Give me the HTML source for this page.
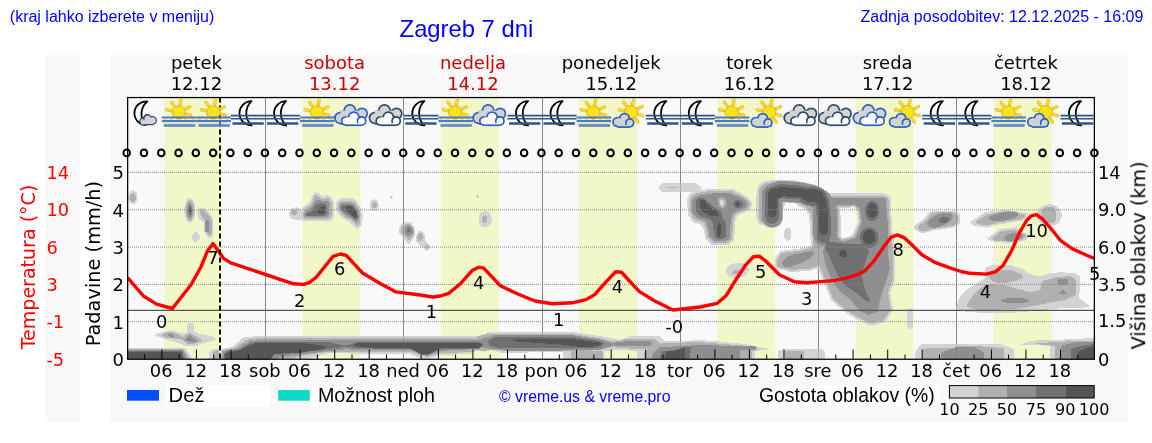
<!DOCTYPE html><html><head><meta charset="utf-8"><style>
html,body{margin:0;padding:0;background:#fff;}
body{width:1152px;height:443px;overflow:hidden;position:relative;}
svg{position:absolute;left:0;top:0;will-change:transform;}
.ds{font-family:"DejaVu Sans",sans-serif;}
.ls{font-family:"Liberation Sans",Arial,sans-serif;}
</style></head><body>
<svg width="1152" height="443" viewBox="0 0 1152 443">
<defs>
<clipPath id="pc"><rect x="128" y="98" width="966" height="261"/></clipPath><clipPath id="ic"><rect x="128.2" y="98.2" width="965.6" height="60"/></clipPath>
</defs>
<rect x="45" y="55" width="35" height="367" fill="#f8f8f8"/>
<rect x="110" y="55" width="1018" height="367" fill="#f8f8f8"/>
<rect x="127.5" y="97.5" width="967" height="261.5" fill="#f9f9f9"/>
<rect x="164.3" y="97.5" width="58.0" height="261.5" fill="#f1f7c9"/>
<rect x="302.6" y="97.5" width="58.0" height="261.5" fill="#f1f7c9"/>
<rect x="440.8" y="97.5" width="58.0" height="261.5" fill="#f1f7c9"/>
<rect x="579.0" y="97.5" width="58.0" height="261.5" fill="#f1f7c9"/>
<rect x="717.3" y="97.5" width="58.0" height="261.5" fill="#f1f7c9"/>
<rect x="855.5" y="97.5" width="58.0" height="261.5" fill="#f1f7c9"/>
<rect x="993.8" y="97.5" width="58.0" height="261.5" fill="#f1f7c9"/>
<line x1="265.5" y1="97.5" x2="265.5" y2="359" stroke="#999" stroke-width="1"/>
<line x1="403.5" y1="97.5" x2="403.5" y2="359" stroke="#999" stroke-width="1"/>
<line x1="542.5" y1="97.5" x2="542.5" y2="359" stroke="#999" stroke-width="1"/>
<line x1="680.5" y1="97.5" x2="680.5" y2="359" stroke="#999" stroke-width="1"/>
<line x1="818.5" y1="97.5" x2="818.5" y2="359" stroke="#999" stroke-width="1"/>
<line x1="956.5" y1="97.5" x2="956.5" y2="359" stroke="#999" stroke-width="1"/>
<path fill="#d3d3d3" fill-rule="evenodd" stroke="#d3d3d3" stroke-width="1" stroke-linejoin="round" d="M782.5 349.5 781.5 350.5 779.5 350.5 778.5 351.5 778.5 358.5 824.5 358.5 824.5 352.5 823.5 351.5 823.5 350.5 822.5 349.5zM212.5 349.5 209.5 352.5 209.5 358.5 218.5 358.5 218.5 349.5zM128.5 348.5 128.5 358.5 192.5 358.5 190.5 356.5 190.5 355.5 188.5 353.5 188.5 352.5 186.5 350.5 186.5 349.5 185.5 348.5zM921.5 344.5 918.5 347.5 918.5 348.5 915.5 351.5 915.5 358.5 1013.5 358.5 1013.5 349.5 1012.5 348.5 1010.5 348.5 1009.5 347.5 1007.5 347.5 1006.5 346.5 1004.5 346.5 1003.5 345.5 1002.5 345.5 1001.5 344.5zM1084.5 338.5 1083.5 339.5 1064.5 339.5 1063.5 340.5 1035.5 340.5 1034.5 341.5 1030.5 341.5 1029.5 342.5 1026.5 342.5 1025.5 343.5 1023.5 343.5 1022.5 344.5 1021.5 344.5 1043.5 344.5 1044.5 345.5 1049.5 345.5 1050.5 346.5 1050.5 358.5 1093.5 358.5 1093.5 338.5zM487.5 332.5 485.5 334.5 483.5 334.5 482.5 335.5 480.5 335.5 479.5 336.5 253.5 336.5 252.5 337.5 244.5 337.5 243.5 338.5 242.5 338.5 238.5 342.5 237.5 342.5 232.5 347.5 229.5 347.5 228.5 348.5 224.5 348.5 223.5 349.5 221.5 349.5 221.5 351.5 220.5 352.5 220.5 358.5 307.5 358.5 308.5 357.5 311.5 357.5 312.5 356.5 316.5 356.5 317.5 355.5 320.5 355.5 321.5 354.5 324.5 354.5 325.5 353.5 328.5 353.5 329.5 352.5 349.5 352.5 350.5 353.5 410.5 353.5 411.5 354.5 412.5 354.5 413.5 355.5 415.5 355.5 416.5 356.5 417.5 356.5 418.5 357.5 421.5 357.5 422.5 358.5 429.5 358.5 430.5 357.5 432.5 357.5 433.5 356.5 435.5 356.5 436.5 355.5 438.5 355.5 439.5 354.5 454.5 354.5 455.5 353.5 470.5 353.5 471.5 352.5 472.5 352.5 473.5 351.5 474.5 351.5 475.5 350.5 482.5 350.5 483.5 351.5 484.5 351.5 485.5 350.5 489.5 350.5 490.5 349.5 491.5 349.5 492.5 350.5 495.5 350.5 496.5 351.5 498.5 351.5 499.5 352.5 527.5 352.5 528.5 351.5 562.5 351.5 563.5 352.5 563.5 358.5 603.5 358.5 603.5 351.5 604.5 350.5 611.5 350.5 612.5 349.5 627.5 349.5 628.5 350.5 636.5 350.5 637.5 351.5 637.5 358.5 754.5 358.5 754.5 352.5 756.5 350.5 759.5 350.5 760.5 349.5 765.5 349.5 766.5 348.5 768.5 348.5 762.5 348.5 761.5 347.5 757.5 347.5 756.5 346.5 752.5 346.5 751.5 345.5 747.5 345.5 746.5 344.5 740.5 344.5 739.5 343.5 730.5 343.5 729.5 342.5 720.5 342.5 719.5 341.5 705.5 341.5 704.5 340.5 691.5 340.5 690.5 341.5 664.5 341.5 660.5 337.5 660.5 336.5 629.5 336.5 628.5 337.5 626.5 337.5 625.5 338.5 624.5 338.5 623.5 339.5 621.5 339.5 620.5 340.5 619.5 340.5 618.5 339.5 613.5 339.5 612.5 338.5 608.5 338.5 607.5 337.5 603.5 337.5 602.5 336.5 597.5 336.5 596.5 335.5 590.5 335.5 589.5 334.5 583.5 334.5 582.5 333.5 577.5 333.5 576.5 332.5zM188.5 323.5 188.5 324.5 187.5 325.5 187.5 332.5 186.5 333.5 179.5 333.5 178.5 332.5 176.5 332.5 175.5 331.5 174.5 331.5 173.5 330.5 172.5 330.5 171.5 331.5 166.5 331.5 165.5 332.5 161.5 332.5 160.5 333.5 157.5 333.5 155.5 335.5 156.5 335.5 157.5 336.5 159.5 336.5 160.5 337.5 162.5 337.5 163.5 338.5 165.5 338.5 166.5 339.5 168.5 339.5 169.5 340.5 172.5 340.5 173.5 341.5 175.5 341.5 176.5 342.5 178.5 342.5 179.5 343.5 181.5 343.5 182.5 344.5 183.5 344.5 184.5 345.5 197.5 345.5 198.5 344.5 200.5 344.5 201.5 343.5 202.5 343.5 203.5 342.5 205.5 342.5 206.5 341.5 209.5 341.5 210.5 340.5 213.5 340.5 214.5 339.5 215.5 339.5 215.5 338.5 214.5 337.5 213.5 337.5 212.5 336.5 208.5 336.5 207.5 335.5 203.5 335.5 202.5 334.5 199.5 334.5 198.5 333.5 197.5 333.5 196.5 332.5 195.5 332.5 193.5 330.5 193.5 324.5 192.5 323.5zM909.5 308.5 907.5 310.5 907.5 326.5 909.5 328.5 911.5 328.5 912.5 327.5 912.5 309.5 911.5 309.5 910.5 308.5zM991.5 265.5 990.5 266.5 989.5 266.5 988.5 267.5 986.5 267.5 985.5 268.5 985.5 277.5 982.5 280.5 981.5 280.5 980.5 281.5 979.5 281.5 977.5 283.5 976.5 283.5 975.5 284.5 974.5 284.5 972.5 286.5 971.5 286.5 969.5 288.5 968.5 288.5 960.5 296.5 960.5 297.5 959.5 298.5 959.5 299.5 958.5 300.5 958.5 302.5 957.5 303.5 957.5 305.5 956.5 306.5 956.5 309.5 957.5 309.5 958.5 310.5 964.5 310.5 965.5 311.5 976.5 311.5 977.5 312.5 1015.5 312.5 1016.5 311.5 1027.5 311.5 1028.5 310.5 1037.5 310.5 1038.5 309.5 1047.5 309.5 1048.5 308.5 1057.5 308.5 1058.5 307.5 1083.5 307.5 1084.5 306.5 1089.5 306.5 1087.5 304.5 1086.5 304.5 1082.5 300.5 1081.5 300.5 1078.5 297.5 1078.5 293.5 1079.5 292.5 1079.5 276.5 1078.5 275.5 1077.5 275.5 1075.5 273.5 1065.5 273.5 1064.5 272.5 1057.5 272.5 1056.5 273.5 1049.5 273.5 1048.5 274.5 1046.5 274.5 1045.5 275.5 1043.5 275.5 1042.5 276.5 1036.5 276.5 1035.5 275.5 1032.5 275.5 1031.5 274.5 1029.5 274.5 1027.5 272.5 1026.5 272.5 1024.5 270.5 1023.5 270.5 1022.5 269.5 1021.5 269.5 1020.5 268.5 1018.5 268.5 1017.5 267.5 1015.5 267.5 1014.5 266.5 1012.5 266.5 1011.5 265.5zM734.5 263.5 733.5 264.5 730.5 264.5 727.5 267.5 727.5 268.5 726.5 269.5 726.5 272.5 727.5 273.5 727.5 274.5 729.5 276.5 731.5 276.5 732.5 277.5 733.5 277.5 734.5 278.5 735.5 278.5 736.5 277.5 739.5 277.5 740.5 276.5 743.5 276.5 744.5 275.5 745.5 275.5 745.5 274.5 747.5 272.5 747.5 271.5 748.5 270.5 748.5 268.5 747.5 267.5 747.5 266.5 745.5 264.5 743.5 264.5 742.5 263.5zM418.5 231.5 418.5 232.5 417.5 233.5 417.5 234.5 416.5 235.5 416.5 241.5 422.5 247.5 423.5 247.5 426.5 250.5 427.5 250.5 429.5 248.5 429.5 245.5 424.5 240.5 424.5 234.5 421.5 231.5zM195.5 231.5 194.5 232.5 194.5 233.5 192.5 235.5 192.5 239.5 194.5 241.5 196.5 241.5 199.5 238.5 199.5 236.5 198.5 235.5 198.5 234.5zM786.5 228.5 784.5 230.5 784.5 231.5 783.5 232.5 784.5 233.5 784.5 237.5 787.5 240.5 788.5 240.5 790.5 238.5 790.5 229.5 789.5 228.5zM1012.5 227.5 1011.5 228.5 1004.5 228.5 1003.5 229.5 999.5 229.5 996.5 232.5 995.5 232.5 993.5 234.5 992.5 234.5 989.5 237.5 988.5 237.5 987.5 238.5 988.5 239.5 989.5 239.5 990.5 240.5 992.5 240.5 993.5 241.5 1002.5 241.5 1003.5 242.5 1015.5 242.5 1016.5 241.5 1020.5 241.5 1021.5 240.5 1024.5 240.5 1025.5 239.5 1026.5 239.5 1026.5 238.5 1027.5 237.5 1027.5 236.5 1028.5 235.5 1027.5 234.5 1026.5 234.5 1024.5 232.5 1023.5 232.5 1021.5 230.5 1020.5 230.5 1019.5 229.5 1018.5 229.5 1016.5 227.5zM404.5 222.5 403.5 223.5 402.5 223.5 400.5 225.5 400.5 226.5 399.5 227.5 399.5 233.5 403.5 237.5 403.5 238.5 408.5 243.5 409.5 243.5 409.5 242.5 412.5 239.5 412.5 238.5 414.5 236.5 414.5 227.5 411.5 224.5 411.5 223.5 410.5 222.5zM930.5 211.5 927.5 214.5 927.5 215.5 921.5 221.5 920.5 221.5 918.5 223.5 917.5 223.5 915.5 225.5 914.5 225.5 914.5 228.5 916.5 230.5 917.5 230.5 918.5 231.5 919.5 231.5 920.5 232.5 925.5 232.5 926.5 231.5 929.5 231.5 930.5 230.5 933.5 230.5 934.5 229.5 939.5 229.5 940.5 228.5 946.5 228.5 947.5 227.5 952.5 227.5 953.5 226.5 955.5 226.5 956.5 225.5 957.5 225.5 959.5 223.5 959.5 214.5 956.5 211.5zM483.5 211.5 482.5 212.5 481.5 212.5 480.5 213.5 480.5 214.5 479.5 215.5 479.5 222.5 480.5 223.5 480.5 224.5 482.5 226.5 487.5 226.5 490.5 223.5 490.5 221.5 491.5 220.5 491.5 217.5 490.5 216.5 490.5 214.5 488.5 212.5 487.5 212.5 486.5 211.5zM1000.5 210.5 999.5 211.5 990.5 211.5 989.5 212.5 984.5 212.5 982.5 214.5 981.5 214.5 979.5 216.5 978.5 216.5 976.5 218.5 975.5 218.5 973.5 220.5 972.5 220.5 970.5 222.5 972.5 224.5 973.5 224.5 974.5 225.5 978.5 225.5 979.5 226.5 984.5 226.5 985.5 227.5 986.5 227.5 987.5 226.5 990.5 226.5 991.5 225.5 994.5 225.5 995.5 224.5 998.5 224.5 999.5 223.5 1004.5 223.5 1005.5 222.5 1010.5 222.5 1011.5 221.5 1016.5 221.5 1017.5 220.5 1022.5 220.5 1023.5 219.5 1024.5 219.5 1025.5 218.5 1025.5 217.5 1026.5 216.5 1026.5 215.5 1027.5 214.5 1026.5 213.5 1022.5 213.5 1021.5 212.5 1017.5 212.5 1016.5 211.5 1011.5 211.5 1010.5 210.5zM849.5 207.5 850.5 206.5 853.5 206.5 857.5 210.5 857.5 214.5 858.5 215.5 858.5 223.5 857.5 224.5 857.5 225.5 856.5 226.5 856.5 227.5 855.5 228.5 855.5 229.5 854.5 230.5 854.5 231.5 853.5 232.5 853.5 233.5 850.5 236.5 849.5 236.5 848.5 237.5 845.5 237.5 844.5 238.5 842.5 238.5 840.5 236.5 840.5 215.5 839.5 214.5 839.5 208.5 840.5 207.5zM200.5 207.5 198.5 209.5 198.5 210.5 197.5 211.5 197.5 212.5 198.5 213.5 198.5 217.5 204.5 223.5 204.5 231.5 205.5 232.5 205.5 233.5 206.5 234.5 206.5 235.5 208.5 237.5 211.5 237.5 212.5 236.5 212.5 217.5 210.5 215.5 210.5 214.5 204.5 208.5 201.5 208.5zM1047.5 204.5 1046.5 205.5 1043.5 205.5 1041.5 207.5 1040.5 207.5 1038.5 209.5 1038.5 210.5 1037.5 211.5 1037.5 219.5 1042.5 224.5 1043.5 224.5 1044.5 225.5 1053.5 225.5 1054.5 224.5 1055.5 224.5 1056.5 223.5 1057.5 223.5 1059.5 221.5 1059.5 220.5 1060.5 219.5 1060.5 217.5 1061.5 216.5 1061.5 213.5 1060.5 212.5 1060.5 211.5 1059.5 210.5 1059.5 209.5 1056.5 206.5 1055.5 206.5 1054.5 205.5 1052.5 205.5 1051.5 204.5zM720.5 202.5 721.5 201.5 722.5 202.5 722.5 203.5 721.5 204.5 720.5 203.5zM373.5 199.5 372.5 200.5 371.5 200.5 371.5 201.5 370.5 202.5 370.5 208.5 372.5 210.5 376.5 210.5 376.5 209.5 377.5 208.5 377.5 207.5 378.5 206.5 378.5 204.5 377.5 203.5 377.5 201.5 376.5 200.5 375.5 200.5 374.5 199.5zM340.5 198.5 339.5 199.5 338.5 199.5 337.5 200.5 337.5 201.5 336.5 202.5 336.5 204.5 335.5 205.5 336.5 206.5 336.5 209.5 337.5 210.5 337.5 212.5 343.5 218.5 344.5 218.5 345.5 219.5 346.5 219.5 347.5 220.5 348.5 220.5 354.5 226.5 354.5 227.5 356.5 227.5 357.5 228.5 361.5 224.5 361.5 219.5 362.5 218.5 362.5 213.5 361.5 212.5 361.5 210.5 360.5 209.5 360.5 207.5 359.5 206.5 359.5 205.5 357.5 203.5 357.5 202.5 354.5 199.5 353.5 199.5 352.5 198.5zM188.5 198.5 187.5 199.5 187.5 200.5 186.5 201.5 186.5 202.5 185.5 203.5 185.5 206.5 184.5 207.5 184.5 213.5 185.5 214.5 185.5 217.5 186.5 218.5 186.5 219.5 189.5 222.5 190.5 222.5 193.5 219.5 193.5 217.5 194.5 216.5 194.5 203.5 193.5 202.5 193.5 201.5 190.5 198.5zM477.5 196.5 477.5 197.5 478.5 196.5zM391.5 196.5 391.5 197.5 392.5 197.5zM315.5 192.5 312.5 195.5 312.5 197.5 311.5 198.5 311.5 200.5 306.5 205.5 305.5 205.5 302.5 208.5 302.5 210.5 301.5 211.5 300.5 210.5 300.5 209.5 299.5 208.5 298.5 208.5 297.5 207.5 295.5 207.5 294.5 208.5 291.5 208.5 290.5 209.5 290.5 211.5 289.5 212.5 289.5 215.5 290.5 216.5 290.5 217.5 291.5 218.5 293.5 218.5 294.5 219.5 299.5 219.5 300.5 218.5 302.5 220.5 330.5 220.5 333.5 217.5 333.5 201.5 332.5 200.5 332.5 199.5 330.5 197.5 330.5 196.5 329.5 196.5 328.5 195.5 326.5 195.5 325.5 196.5 324.5 196.5 323.5 197.5 322.5 196.5 321.5 196.5 318.5 193.5 317.5 193.5 316.5 192.5zM132.5 190.5 131.5 191.5 130.5 191.5 130.5 192.5 129.5 193.5 129.5 194.5 128.5 195.5 128.5 199.5 129.5 200.5 129.5 201.5 131.5 203.5 134.5 203.5 136.5 201.5 136.5 193.5 133.5 190.5zM662.5 183.5 658.5 187.5 662.5 191.5 691.5 191.5 692.5 192.5 691.5 193.5 690.5 193.5 689.5 194.5 689.5 195.5 688.5 196.5 688.5 197.5 687.5 198.5 687.5 206.5 688.5 207.5 688.5 215.5 690.5 217.5 690.5 218.5 694.5 222.5 696.5 222.5 697.5 223.5 699.5 223.5 703.5 227.5 703.5 228.5 704.5 229.5 704.5 233.5 705.5 234.5 705.5 238.5 711.5 244.5 728.5 244.5 731.5 241.5 732.5 241.5 733.5 240.5 733.5 235.5 734.5 234.5 734.5 221.5 735.5 220.5 735.5 218.5 736.5 217.5 736.5 216.5 738.5 214.5 739.5 214.5 740.5 213.5 741.5 213.5 742.5 212.5 744.5 212.5 745.5 211.5 746.5 211.5 747.5 210.5 748.5 210.5 750.5 208.5 750.5 207.5 751.5 206.5 751.5 204.5 752.5 203.5 750.5 201.5 750.5 200.5 746.5 196.5 745.5 196.5 744.5 195.5 743.5 195.5 741.5 193.5 740.5 193.5 739.5 192.5 738.5 192.5 737.5 191.5 736.5 191.5 734.5 189.5 705.5 189.5 704.5 190.5 700.5 190.5 699.5 189.5 700.5 188.5 701.5 188.5 701.5 187.5 700.5 186.5 699.5 186.5 697.5 184.5 696.5 184.5 695.5 183.5zM769.5 180.5 768.5 181.5 764.5 181.5 763.5 182.5 762.5 182.5 758.5 186.5 758.5 187.5 757.5 188.5 757.5 193.5 756.5 194.5 756.5 217.5 757.5 218.5 757.5 220.5 758.5 221.5 758.5 222.5 760.5 224.5 764.5 224.5 766.5 226.5 768.5 226.5 769.5 227.5 775.5 227.5 776.5 226.5 777.5 226.5 781.5 222.5 781.5 221.5 782.5 220.5 782.5 209.5 783.5 208.5 783.5 206.5 784.5 205.5 784.5 203.5 785.5 202.5 795.5 202.5 799.5 206.5 800.5 206.5 801.5 207.5 802.5 207.5 803.5 208.5 804.5 208.5 807.5 211.5 807.5 212.5 809.5 214.5 809.5 222.5 810.5 223.5 810.5 237.5 811.5 238.5 811.5 245.5 810.5 246.5 809.5 246.5 808.5 247.5 805.5 247.5 804.5 248.5 800.5 248.5 799.5 249.5 792.5 249.5 791.5 250.5 784.5 250.5 783.5 251.5 780.5 251.5 779.5 252.5 779.5 253.5 777.5 255.5 777.5 256.5 775.5 258.5 775.5 267.5 776.5 268.5 779.5 268.5 780.5 269.5 783.5 269.5 784.5 270.5 786.5 270.5 787.5 271.5 799.5 271.5 800.5 270.5 810.5 270.5 811.5 269.5 813.5 269.5 814.5 268.5 818.5 268.5 819.5 269.5 819.5 271.5 820.5 272.5 820.5 273.5 821.5 274.5 821.5 276.5 822.5 277.5 822.5 278.5 823.5 279.5 823.5 280.5 824.5 281.5 824.5 283.5 825.5 284.5 825.5 285.5 826.5 286.5 826.5 288.5 827.5 289.5 827.5 290.5 828.5 291.5 828.5 293.5 829.5 294.5 829.5 295.5 830.5 296.5 830.5 298.5 831.5 299.5 831.5 300.5 832.5 300.5 838.5 306.5 839.5 306.5 844.5 311.5 845.5 311.5 847.5 313.5 848.5 313.5 850.5 315.5 851.5 315.5 852.5 316.5 853.5 316.5 855.5 318.5 856.5 318.5 857.5 319.5 858.5 319.5 859.5 320.5 860.5 320.5 861.5 321.5 862.5 321.5 863.5 322.5 864.5 322.5 865.5 323.5 866.5 323.5 867.5 324.5 869.5 324.5 870.5 325.5 871.5 324.5 875.5 324.5 876.5 323.5 879.5 323.5 880.5 322.5 883.5 322.5 884.5 321.5 885.5 321.5 885.5 320.5 887.5 318.5 887.5 317.5 889.5 315.5 889.5 314.5 891.5 312.5 891.5 311.5 892.5 310.5 892.5 306.5 891.5 305.5 891.5 300.5 890.5 299.5 890.5 294.5 889.5 293.5 889.5 292.5 890.5 291.5 890.5 289.5 891.5 288.5 891.5 287.5 892.5 286.5 892.5 284.5 893.5 283.5 893.5 282.5 894.5 281.5 894.5 245.5 893.5 244.5 893.5 238.5 892.5 237.5 892.5 232.5 891.5 231.5 891.5 216.5 890.5 215.5 890.5 198.5 889.5 197.5 889.5 196.5 888.5 195.5 887.5 195.5 886.5 194.5 884.5 194.5 883.5 193.5 829.5 193.5 827.5 191.5 826.5 191.5 825.5 190.5 824.5 190.5 822.5 188.5 821.5 188.5 819.5 186.5 817.5 186.5 816.5 185.5 814.5 185.5 813.5 184.5 810.5 184.5 809.5 183.5 805.5 183.5 804.5 182.5 800.5 182.5 799.5 181.5 796.5 181.5 795.5 180.5z"/>
<path fill="#b0b0b0" fill-rule="evenodd" stroke="#b0b0b0" stroke-width="1" stroke-linejoin="round" d="M785.5 351.5 785.5 358.5 803.5 358.5 803.5 352.5 802.5 351.5zM216.5 350.5 215.5 351.5 214.5 351.5 213.5 352.5 213.5 358.5 218.5 358.5 218.5 351.5 217.5 350.5zM128.5 349.5 128.5 358.5 189.5 358.5 187.5 356.5 187.5 355.5 186.5 354.5 186.5 353.5 184.5 351.5 184.5 350.5 183.5 349.5zM957.5 346.5 956.5 347.5 954.5 347.5 953.5 348.5 926.5 348.5 925.5 349.5 923.5 349.5 923.5 358.5 1003.5 358.5 1003.5 348.5 996.5 348.5 995.5 347.5 983.5 347.5 982.5 346.5zM1065.5 341.5 1064.5 342.5 1048.5 342.5 1047.5 343.5 1036.5 343.5 1039.5 343.5 1040.5 344.5 1049.5 344.5 1050.5 345.5 1054.5 345.5 1055.5 346.5 1055.5 358.5 1093.5 358.5 1093.5 341.5zM486.5 334.5 485.5 335.5 481.5 335.5 480.5 336.5 478.5 336.5 477.5 337.5 476.5 337.5 475.5 338.5 256.5 338.5 255.5 339.5 248.5 339.5 247.5 340.5 245.5 340.5 243.5 342.5 242.5 342.5 240.5 344.5 239.5 344.5 236.5 347.5 235.5 347.5 234.5 348.5 232.5 348.5 231.5 349.5 226.5 349.5 225.5 350.5 222.5 350.5 222.5 353.5 221.5 354.5 221.5 358.5 292.5 358.5 293.5 357.5 295.5 357.5 296.5 356.5 298.5 356.5 299.5 355.5 303.5 355.5 304.5 354.5 310.5 354.5 311.5 353.5 316.5 353.5 317.5 352.5 323.5 352.5 324.5 351.5 411.5 351.5 412.5 352.5 414.5 352.5 415.5 353.5 417.5 353.5 418.5 354.5 421.5 354.5 422.5 355.5 424.5 355.5 425.5 356.5 428.5 356.5 429.5 355.5 431.5 355.5 432.5 354.5 435.5 354.5 436.5 353.5 438.5 353.5 439.5 352.5 458.5 352.5 459.5 351.5 471.5 351.5 472.5 350.5 474.5 350.5 475.5 349.5 479.5 349.5 480.5 350.5 486.5 350.5 487.5 349.5 500.5 349.5 501.5 350.5 570.5 350.5 571.5 351.5 571.5 358.5 602.5 358.5 602.5 351.5 593.5 351.5 592.5 350.5 593.5 349.5 602.5 349.5 603.5 348.5 606.5 348.5 607.5 347.5 610.5 347.5 611.5 346.5 616.5 346.5 617.5 347.5 628.5 347.5 629.5 348.5 647.5 348.5 648.5 349.5 647.5 350.5 646.5 350.5 644.5 352.5 644.5 358.5 751.5 358.5 751.5 351.5 752.5 350.5 753.5 350.5 754.5 349.5 757.5 349.5 756.5 348.5 756.5 347.5 755.5 346.5 743.5 346.5 742.5 345.5 730.5 345.5 729.5 344.5 717.5 344.5 716.5 343.5 705.5 343.5 704.5 342.5 686.5 342.5 685.5 343.5 661.5 343.5 660.5 344.5 656.5 340.5 655.5 340.5 654.5 339.5 623.5 339.5 622.5 340.5 619.5 340.5 618.5 341.5 614.5 341.5 613.5 342.5 612.5 341.5 609.5 341.5 608.5 340.5 605.5 340.5 604.5 339.5 601.5 339.5 600.5 338.5 596.5 338.5 595.5 337.5 589.5 337.5 588.5 336.5 582.5 336.5 581.5 335.5 576.5 335.5 575.5 334.5zM167.5 332.5 166.5 333.5 164.5 333.5 163.5 334.5 162.5 334.5 162.5 335.5 163.5 336.5 164.5 336.5 165.5 337.5 173.5 337.5 174.5 338.5 179.5 338.5 180.5 339.5 182.5 339.5 184.5 341.5 185.5 341.5 187.5 343.5 194.5 343.5 195.5 342.5 197.5 342.5 198.5 341.5 200.5 341.5 201.5 340.5 199.5 338.5 198.5 338.5 196.5 336.5 195.5 336.5 194.5 335.5 193.5 335.5 192.5 334.5 191.5 334.5 190.5 333.5 188.5 333.5 186.5 335.5 185.5 335.5 184.5 336.5 183.5 336.5 182.5 337.5 181.5 337.5 178.5 334.5 176.5 334.5 175.5 333.5 173.5 333.5 172.5 332.5zM1065.5 276.5 1064.5 277.5 1054.5 277.5 1053.5 278.5 1051.5 278.5 1050.5 279.5 1048.5 279.5 1047.5 280.5 1044.5 280.5 1043.5 281.5 1042.5 281.5 1042.5 283.5 1041.5 284.5 1041.5 288.5 1039.5 290.5 1038.5 290.5 1037.5 291.5 1033.5 291.5 1032.5 292.5 1028.5 292.5 1027.5 291.5 1024.5 291.5 1023.5 290.5 1020.5 290.5 1019.5 289.5 1016.5 289.5 1015.5 288.5 1013.5 288.5 1012.5 287.5 1010.5 287.5 1009.5 286.5 1006.5 286.5 1005.5 285.5 996.5 285.5 995.5 284.5 989.5 284.5 988.5 285.5 987.5 285.5 986.5 286.5 984.5 286.5 983.5 287.5 982.5 287.5 981.5 288.5 980.5 288.5 972.5 296.5 972.5 297.5 969.5 300.5 969.5 301.5 967.5 303.5 967.5 306.5 969.5 306.5 970.5 307.5 971.5 307.5 972.5 308.5 974.5 308.5 975.5 309.5 1001.5 309.5 1002.5 308.5 1019.5 308.5 1020.5 307.5 1025.5 307.5 1026.5 306.5 1030.5 306.5 1031.5 305.5 1035.5 305.5 1036.5 304.5 1040.5 304.5 1041.5 303.5 1045.5 303.5 1046.5 302.5 1050.5 302.5 1051.5 301.5 1056.5 301.5 1057.5 300.5 1062.5 300.5 1063.5 299.5 1065.5 299.5 1066.5 298.5 1067.5 298.5 1068.5 297.5 1070.5 297.5 1071.5 296.5 1072.5 296.5 1073.5 295.5 1074.5 295.5 1075.5 294.5 1075.5 280.5 1072.5 277.5 1071.5 277.5 1070.5 276.5zM995.5 270.5 993.5 272.5 992.5 272.5 989.5 275.5 988.5 275.5 988.5 276.5 993.5 281.5 995.5 281.5 996.5 282.5 997.5 282.5 998.5 283.5 999.5 283.5 1000.5 282.5 1007.5 282.5 1008.5 281.5 1012.5 281.5 1013.5 280.5 1016.5 280.5 1017.5 279.5 1018.5 279.5 1019.5 278.5 1021.5 278.5 1022.5 277.5 1022.5 276.5 1019.5 273.5 1017.5 273.5 1016.5 272.5 1015.5 272.5 1014.5 271.5 1012.5 271.5 1011.5 270.5zM734.5 270.5 732.5 272.5 732.5 273.5 739.5 273.5 739.5 271.5 738.5 270.5zM426.5 244.5 426.5 248.5 427.5 247.5 427.5 245.5zM419.5 233.5 418.5 234.5 418.5 235.5 417.5 236.5 417.5 237.5 418.5 238.5 418.5 240.5 421.5 240.5 421.5 239.5 422.5 238.5 422.5 235.5 421.5 234.5 421.5 233.5zM1007.5 230.5 1006.5 231.5 1001.5 231.5 1000.5 232.5 999.5 232.5 996.5 235.5 995.5 235.5 992.5 238.5 993.5 239.5 994.5 239.5 995.5 240.5 1007.5 240.5 1008.5 241.5 1012.5 241.5 1013.5 240.5 1017.5 240.5 1018.5 239.5 1021.5 239.5 1022.5 238.5 1023.5 238.5 1025.5 236.5 1025.5 235.5 1024.5 234.5 1023.5 234.5 1022.5 233.5 1021.5 233.5 1020.5 232.5 1019.5 232.5 1018.5 231.5 1017.5 231.5 1016.5 230.5zM405.5 224.5 404.5 225.5 403.5 225.5 402.5 226.5 402.5 227.5 401.5 228.5 401.5 232.5 408.5 239.5 409.5 239.5 411.5 237.5 411.5 236.5 413.5 234.5 413.5 229.5 412.5 228.5 412.5 227.5 409.5 224.5zM484.5 215.5 482.5 217.5 482.5 221.5 483.5 222.5 485.5 222.5 486.5 221.5 486.5 216.5 485.5 215.5zM936.5 212.5 935.5 213.5 932.5 213.5 928.5 217.5 928.5 218.5 926.5 220.5 925.5 220.5 922.5 223.5 921.5 223.5 918.5 226.5 918.5 228.5 920.5 230.5 926.5 230.5 927.5 229.5 930.5 229.5 931.5 228.5 935.5 228.5 936.5 227.5 941.5 227.5 942.5 226.5 947.5 226.5 948.5 225.5 953.5 225.5 954.5 224.5 955.5 224.5 957.5 222.5 957.5 215.5 955.5 213.5 954.5 213.5 953.5 212.5zM1004.5 211.5 1003.5 212.5 998.5 212.5 997.5 213.5 993.5 213.5 992.5 214.5 987.5 214.5 986.5 215.5 985.5 215.5 983.5 217.5 982.5 217.5 980.5 219.5 979.5 219.5 978.5 220.5 977.5 220.5 976.5 221.5 976.5 222.5 977.5 223.5 979.5 223.5 980.5 224.5 990.5 224.5 991.5 223.5 994.5 223.5 995.5 222.5 998.5 222.5 999.5 221.5 1005.5 221.5 1006.5 220.5 1012.5 220.5 1013.5 219.5 1019.5 219.5 1020.5 218.5 1022.5 218.5 1024.5 216.5 1024.5 215.5 1023.5 214.5 1019.5 214.5 1017.5 212.5 1014.5 212.5 1013.5 211.5zM292.5 210.5 291.5 211.5 291.5 213.5 292.5 214.5 293.5 214.5 294.5 215.5 296.5 213.5 296.5 211.5 295.5 210.5zM200.5 210.5 200.5 213.5 201.5 214.5 201.5 215.5 202.5 216.5 202.5 217.5 205.5 220.5 205.5 231.5 209.5 235.5 211.5 233.5 211.5 220.5 210.5 219.5 210.5 218.5 209.5 217.5 209.5 216.5 203.5 210.5zM1045.5 207.5 1044.5 208.5 1043.5 208.5 1042.5 209.5 1042.5 210.5 1041.5 211.5 1041.5 220.5 1043.5 222.5 1053.5 222.5 1055.5 220.5 1055.5 210.5 1054.5 209.5 1054.5 208.5 1053.5 207.5zM850.5 206.5 851.5 205.5 854.5 205.5 859.5 210.5 859.5 218.5 860.5 219.5 860.5 222.5 859.5 223.5 859.5 224.5 858.5 225.5 858.5 227.5 857.5 228.5 857.5 229.5 856.5 230.5 856.5 232.5 855.5 233.5 855.5 234.5 854.5 235.5 854.5 236.5 853.5 237.5 850.5 237.5 849.5 238.5 847.5 238.5 846.5 239.5 843.5 239.5 842.5 240.5 838.5 236.5 838.5 210.5 837.5 209.5 837.5 207.5 838.5 206.5zM373.5 202.5 373.5 203.5 372.5 204.5 372.5 206.5 373.5 207.5 375.5 207.5 376.5 206.5 376.5 203.5 375.5 202.5zM340.5 201.5 339.5 202.5 339.5 203.5 338.5 204.5 338.5 208.5 339.5 209.5 339.5 210.5 341.5 212.5 341.5 213.5 345.5 217.5 346.5 217.5 347.5 218.5 349.5 218.5 350.5 219.5 351.5 219.5 357.5 225.5 359.5 223.5 359.5 216.5 360.5 215.5 360.5 214.5 359.5 213.5 359.5 210.5 358.5 209.5 358.5 207.5 355.5 204.5 355.5 203.5 354.5 202.5 353.5 202.5 352.5 201.5zM719.5 200.5 720.5 199.5 722.5 199.5 724.5 201.5 724.5 204.5 722.5 206.5 721.5 206.5 719.5 204.5zM189.5 200.5 187.5 202.5 187.5 203.5 186.5 204.5 186.5 216.5 187.5 217.5 187.5 218.5 189.5 220.5 190.5 220.5 191.5 219.5 191.5 218.5 192.5 217.5 192.5 216.5 193.5 215.5 193.5 205.5 192.5 204.5 192.5 202.5 190.5 200.5zM391 197h1v1h-1zM477 196h1v1h-1zM315.5 195.5 314.5 196.5 314.5 197.5 313.5 198.5 313.5 200.5 312.5 201.5 312.5 202.5 311.5 203.5 311.5 204.5 309.5 206.5 308.5 206.5 304.5 210.5 304.5 211.5 303.5 212.5 303.5 217.5 304.5 218.5 328.5 218.5 331.5 215.5 331.5 202.5 329.5 200.5 329.5 199.5 328.5 198.5 326.5 198.5 325.5 199.5 321.5 199.5 319.5 197.5 318.5 197.5 316.5 195.5zM132.5 193.5 130.5 195.5 130.5 199.5 131.5 200.5 131.5 201.5 133.5 201.5 135.5 199.5 135.5 196.5 134.5 195.5 134.5 194.5 133.5 193.5zM707.5 191.5 706.5 192.5 700.5 192.5 699.5 193.5 696.5 193.5 695.5 194.5 694.5 194.5 693.5 195.5 692.5 195.5 691.5 196.5 691.5 197.5 690.5 198.5 690.5 211.5 691.5 212.5 691.5 214.5 692.5 215.5 692.5 216.5 696.5 220.5 699.5 220.5 700.5 221.5 702.5 221.5 704.5 223.5 704.5 224.5 705.5 225.5 705.5 227.5 706.5 228.5 706.5 231.5 707.5 232.5 707.5 236.5 713.5 242.5 727.5 242.5 730.5 239.5 731.5 239.5 731.5 232.5 732.5 231.5 732.5 220.5 733.5 219.5 733.5 217.5 734.5 216.5 734.5 215.5 737.5 212.5 738.5 212.5 739.5 211.5 741.5 211.5 742.5 210.5 743.5 210.5 744.5 209.5 745.5 209.5 746.5 208.5 747.5 208.5 748.5 207.5 748.5 206.5 749.5 205.5 749.5 202.5 745.5 198.5 744.5 198.5 742.5 196.5 741.5 196.5 740.5 195.5 739.5 195.5 738.5 194.5 737.5 194.5 736.5 193.5 735.5 193.5 734.5 192.5 733.5 192.5 732.5 191.5zM668.5 187.5 676.5 187.5zM781.5 180.5 780.5 181.5 775.5 181.5 774.5 182.5 770.5 182.5 769.5 183.5 765.5 183.5 764.5 184.5 763.5 184.5 760.5 187.5 760.5 188.5 759.5 189.5 759.5 219.5 760.5 220.5 760.5 221.5 761.5 222.5 763.5 222.5 764.5 223.5 764.5 224.5 765.5 224.5 767.5 226.5 769.5 226.5 770.5 227.5 773.5 227.5 774.5 226.5 776.5 226.5 777.5 225.5 778.5 225.5 780.5 223.5 780.5 222.5 781.5 221.5 781.5 219.5 782.5 218.5 782.5 202.5 783.5 201.5 787.5 201.5 788.5 202.5 798.5 202.5 800.5 204.5 801.5 204.5 802.5 205.5 803.5 205.5 804.5 206.5 805.5 206.5 809.5 210.5 809.5 211.5 811.5 213.5 811.5 219.5 812.5 220.5 812.5 235.5 813.5 236.5 813.5 246.5 811.5 248.5 810.5 248.5 809.5 249.5 805.5 249.5 804.5 250.5 801.5 250.5 800.5 251.5 793.5 251.5 792.5 252.5 785.5 252.5 784.5 253.5 781.5 253.5 780.5 254.5 780.5 255.5 779.5 256.5 779.5 257.5 777.5 259.5 777.5 266.5 779.5 266.5 780.5 267.5 783.5 267.5 784.5 268.5 787.5 268.5 788.5 269.5 797.5 269.5 798.5 268.5 809.5 268.5 810.5 267.5 812.5 267.5 813.5 266.5 816.5 266.5 817.5 265.5 818.5 265.5 821.5 268.5 821.5 270.5 822.5 271.5 822.5 272.5 823.5 273.5 823.5 275.5 824.5 276.5 824.5 277.5 825.5 278.5 825.5 280.5 826.5 281.5 826.5 282.5 827.5 283.5 827.5 284.5 828.5 285.5 828.5 287.5 829.5 288.5 829.5 289.5 830.5 290.5 830.5 292.5 831.5 293.5 831.5 294.5 832.5 295.5 832.5 297.5 839.5 304.5 840.5 304.5 846.5 310.5 847.5 310.5 848.5 311.5 849.5 311.5 851.5 313.5 852.5 313.5 853.5 314.5 854.5 314.5 856.5 316.5 857.5 316.5 858.5 317.5 859.5 317.5 860.5 318.5 861.5 318.5 862.5 319.5 863.5 319.5 864.5 320.5 865.5 320.5 866.5 321.5 867.5 321.5 868.5 322.5 874.5 322.5 875.5 321.5 878.5 321.5 879.5 320.5 882.5 320.5 885.5 317.5 885.5 316.5 887.5 314.5 887.5 313.5 889.5 311.5 889.5 310.5 890.5 309.5 890.5 307.5 889.5 306.5 889.5 301.5 888.5 300.5 888.5 295.5 887.5 294.5 887.5 291.5 888.5 290.5 888.5 288.5 889.5 287.5 889.5 286.5 890.5 285.5 890.5 283.5 891.5 282.5 891.5 281.5 892.5 280.5 892.5 247.5 891.5 246.5 891.5 240.5 890.5 239.5 890.5 233.5 889.5 232.5 889.5 219.5 888.5 218.5 888.5 200.5 887.5 199.5 887.5 197.5 886.5 197.5 885.5 196.5 831.5 196.5 829.5 194.5 829.5 193.5 828.5 193.5 826.5 191.5 825.5 191.5 822.5 188.5 821.5 188.5 820.5 187.5 819.5 187.5 818.5 186.5 816.5 186.5 815.5 185.5 813.5 185.5 812.5 184.5 808.5 184.5 807.5 183.5 804.5 183.5 803.5 182.5 795.5 182.5 794.5 181.5 782.5 181.5z"/>
<path fill="#8f8f8f" fill-rule="evenodd" stroke="#8f8f8f" stroke-width="1" stroke-linejoin="round" d="M128.5 350.5 128.5 358.5 186.5 358.5 186.5 357.5 185.5 356.5 185.5 355.5 184.5 354.5 184.5 353.5 183.5 352.5 183.5 351.5 182.5 350.5zM955.5 347.5 954.5 348.5 953.5 348.5 952.5 349.5 950.5 349.5 949.5 350.5 947.5 350.5 946.5 351.5 944.5 351.5 943.5 352.5 942.5 352.5 941.5 353.5 941.5 358.5 983.5 358.5 983.5 352.5 982.5 352.5 980.5 350.5 979.5 350.5 978.5 349.5 977.5 349.5 976.5 348.5 975.5 348.5 974.5 347.5zM690.5 345.5 689.5 346.5 673.5 346.5 672.5 347.5 659.5 347.5 653.5 353.5 653.5 354.5 652.5 355.5 652.5 358.5 739.5 358.5 739.5 350.5 740.5 349.5 754.5 349.5 755.5 348.5 755.5 347.5 754.5 346.5 719.5 346.5 718.5 345.5zM1075.5 342.5 1074.5 343.5 1070.5 343.5 1069.5 344.5 1066.5 344.5 1065.5 345.5 1062.5 345.5 1061.5 346.5 1061.5 358.5 1093.5 358.5 1093.5 342.5zM493.5 335.5 492.5 336.5 491.5 336.5 490.5 337.5 486.5 337.5 485.5 338.5 483.5 338.5 482.5 339.5 481.5 339.5 480.5 340.5 257.5 340.5 256.5 341.5 249.5 341.5 247.5 343.5 246.5 343.5 245.5 344.5 244.5 344.5 243.5 345.5 242.5 345.5 240.5 347.5 239.5 347.5 238.5 348.5 237.5 348.5 236.5 349.5 232.5 349.5 231.5 350.5 226.5 350.5 225.5 351.5 223.5 351.5 223.5 355.5 222.5 356.5 222.5 358.5 277.5 358.5 279.5 356.5 282.5 356.5 283.5 355.5 290.5 355.5 291.5 354.5 298.5 354.5 299.5 353.5 306.5 353.5 307.5 352.5 315.5 352.5 316.5 351.5 323.5 351.5 324.5 350.5 333.5 350.5 334.5 349.5 343.5 349.5 344.5 348.5 348.5 348.5 349.5 349.5 410.5 349.5 411.5 350.5 413.5 350.5 414.5 351.5 415.5 351.5 416.5 352.5 417.5 352.5 418.5 353.5 419.5 353.5 420.5 354.5 425.5 354.5 426.5 355.5 427.5 355.5 428.5 354.5 429.5 354.5 430.5 353.5 432.5 353.5 433.5 352.5 435.5 352.5 436.5 351.5 437.5 351.5 438.5 350.5 446.5 350.5 447.5 349.5 466.5 349.5 467.5 348.5 479.5 348.5 481.5 346.5 482.5 346.5 483.5 347.5 489.5 347.5 490.5 348.5 496.5 348.5 497.5 349.5 506.5 349.5 507.5 350.5 561.5 350.5 562.5 349.5 600.5 349.5 601.5 348.5 602.5 348.5 603.5 347.5 605.5 347.5 606.5 346.5 608.5 346.5 609.5 345.5 611.5 345.5 612.5 344.5 614.5 344.5 615.5 345.5 650.5 345.5 651.5 344.5 651.5 343.5 649.5 341.5 624.5 341.5 623.5 342.5 616.5 342.5 615.5 343.5 610.5 343.5 609.5 342.5 607.5 342.5 606.5 341.5 604.5 341.5 603.5 340.5 600.5 340.5 599.5 339.5 594.5 339.5 593.5 338.5 587.5 338.5 586.5 337.5 581.5 337.5 580.5 336.5 574.5 336.5 573.5 335.5zM189.5 335.5 185.5 339.5 185.5 340.5 187.5 340.5 188.5 341.5 196.5 341.5 196.5 340.5 195.5 339.5 194.5 339.5 190.5 335.5zM168.5 334.5 168.5 335.5 169.5 335.5 171.5 337.5 172.5 337.5 173.5 336.5 173.5 335.5 172.5 334.5zM1006.5 298.5 1005.5 299.5 1002.5 299.5 1001.5 300.5 1002.5 301.5 1004.5 301.5 1005.5 302.5 1024.5 302.5 1025.5 301.5 1028.5 301.5 1028.5 300.5 1027.5 299.5 1024.5 299.5 1023.5 298.5zM1062.5 290.5 1059.5 293.5 1066.5 293.5 1063.5 290.5zM1058.5 279.5 1057.5 280.5 1057.5 281.5 1058.5 282.5 1058.5 284.5 1066.5 284.5 1067.5 283.5 1067.5 279.5zM809.5 251.5 808.5 252.5 803.5 252.5 802.5 253.5 798.5 253.5 797.5 254.5 794.5 254.5 793.5 255.5 790.5 255.5 789.5 256.5 788.5 256.5 783.5 261.5 782.5 261.5 782.5 263.5 783.5 264.5 783.5 265.5 784.5 266.5 791.5 266.5 792.5 265.5 793.5 265.5 794.5 264.5 796.5 264.5 797.5 263.5 798.5 263.5 799.5 262.5 801.5 262.5 802.5 261.5 803.5 261.5 804.5 260.5 805.5 260.5 806.5 259.5 807.5 259.5 808.5 258.5 809.5 258.5 812.5 255.5 812.5 254.5 813.5 253.5 813.5 252.5 812.5 251.5zM1011.5 233.5 1010.5 234.5 1008.5 234.5 1007.5 235.5 1006.5 235.5 1004.5 237.5 1004.5 238.5 1006.5 240.5 1014.5 240.5 1015.5 239.5 1017.5 239.5 1018.5 238.5 1020.5 238.5 1022.5 236.5 1022.5 234.5 1021.5 234.5 1020.5 233.5zM408.5 225.5 407.5 226.5 406.5 226.5 405.5 227.5 405.5 229.5 404.5 230.5 404.5 231.5 405.5 232.5 405.5 233.5 407.5 235.5 409.5 235.5 412.5 232.5 412.5 229.5 411.5 228.5 411.5 227.5 410.5 226.5 409.5 226.5zM206.5 220.5 205.5 221.5 205.5 230.5 206.5 231.5 208.5 231.5 208.5 221.5 207.5 220.5zM941.5 213.5 940.5 214.5 938.5 214.5 937.5 215.5 935.5 215.5 933.5 217.5 932.5 217.5 927.5 222.5 927.5 224.5 929.5 226.5 931.5 226.5 932.5 227.5 935.5 227.5 936.5 226.5 939.5 226.5 940.5 225.5 942.5 225.5 943.5 224.5 944.5 224.5 945.5 223.5 946.5 223.5 947.5 222.5 948.5 222.5 951.5 219.5 951.5 218.5 952.5 217.5 952.5 215.5 950.5 213.5zM1001.5 212.5 1000.5 213.5 997.5 213.5 996.5 214.5 994.5 214.5 993.5 215.5 991.5 215.5 989.5 217.5 989.5 219.5 991.5 219.5 992.5 220.5 1003.5 220.5 1004.5 219.5 1008.5 219.5 1009.5 218.5 1011.5 218.5 1012.5 217.5 1014.5 217.5 1015.5 216.5 1016.5 216.5 1017.5 215.5 1017.5 213.5 1016.5 213.5 1015.5 212.5zM852.5 204.5 853.5 203.5 854.5 203.5 857.5 206.5 858.5 206.5 860.5 208.5 860.5 212.5 861.5 213.5 861.5 219.5 862.5 220.5 862.5 222.5 861.5 223.5 861.5 224.5 860.5 225.5 860.5 227.5 859.5 228.5 859.5 230.5 858.5 231.5 858.5 232.5 857.5 233.5 857.5 235.5 856.5 236.5 856.5 237.5 855.5 238.5 854.5 238.5 853.5 239.5 850.5 239.5 849.5 240.5 847.5 240.5 846.5 241.5 843.5 241.5 842.5 242.5 839.5 239.5 838.5 239.5 836.5 237.5 836.5 209.5 835.5 208.5 835.5 206.5 837.5 204.5zM341.5 203.5 340.5 204.5 340.5 209.5 346.5 215.5 347.5 215.5 348.5 216.5 349.5 216.5 350.5 217.5 351.5 217.5 355.5 221.5 356.5 221.5 357.5 220.5 357.5 219.5 358.5 218.5 358.5 213.5 357.5 212.5 357.5 210.5 356.5 209.5 356.5 208.5 354.5 206.5 354.5 205.5 353.5 204.5 352.5 204.5 351.5 203.5zM189.5 203.5 188.5 204.5 188.5 206.5 187.5 207.5 187.5 213.5 188.5 214.5 188.5 216.5 189.5 217.5 190.5 217.5 191.5 216.5 191.5 212.5 192.5 211.5 192.5 209.5 191.5 208.5 191.5 205.5 190.5 204.5 190.5 203.5zM316.5 200.5 314.5 202.5 314.5 203.5 313.5 204.5 313.5 205.5 308.5 210.5 307.5 210.5 305.5 212.5 305.5 213.5 304.5 214.5 305.5 215.5 305.5 216.5 326.5 216.5 328.5 214.5 328.5 202.5 327.5 201.5 321.5 201.5 320.5 200.5zM720.5 197.5 721.5 196.5 722.5 196.5 724.5 198.5 725.5 198.5 726.5 199.5 726.5 205.5 723.5 208.5 721.5 208.5 720.5 207.5 719.5 207.5 718.5 206.5 718.5 203.5 717.5 202.5 717.5 198.5 718.5 197.5zM712.5 193.5 711.5 194.5 706.5 194.5 705.5 195.5 699.5 195.5 698.5 196.5 697.5 196.5 696.5 197.5 694.5 197.5 694.5 198.5 692.5 200.5 692.5 212.5 697.5 217.5 698.5 217.5 699.5 218.5 701.5 218.5 702.5 219.5 703.5 219.5 704.5 220.5 705.5 220.5 706.5 221.5 706.5 222.5 707.5 223.5 707.5 225.5 708.5 226.5 708.5 228.5 709.5 229.5 709.5 235.5 714.5 240.5 725.5 240.5 726.5 239.5 727.5 239.5 729.5 237.5 729.5 226.5 730.5 225.5 730.5 218.5 731.5 217.5 731.5 214.5 734.5 211.5 735.5 211.5 736.5 210.5 738.5 210.5 739.5 209.5 740.5 209.5 741.5 208.5 743.5 208.5 744.5 207.5 745.5 207.5 745.5 206.5 746.5 205.5 746.5 202.5 745.5 201.5 745.5 200.5 744.5 200.5 743.5 199.5 742.5 199.5 741.5 198.5 740.5 198.5 739.5 197.5 738.5 197.5 737.5 196.5 735.5 196.5 734.5 195.5 733.5 195.5 732.5 194.5 730.5 194.5 729.5 193.5zM777.5 181.5 776.5 182.5 774.5 182.5 773.5 183.5 771.5 183.5 770.5 184.5 769.5 184.5 768.5 185.5 767.5 185.5 763.5 189.5 763.5 190.5 762.5 191.5 762.5 219.5 763.5 220.5 763.5 221.5 764.5 222.5 764.5 223.5 765.5 224.5 766.5 224.5 768.5 226.5 775.5 226.5 776.5 225.5 777.5 225.5 780.5 222.5 780.5 221.5 781.5 220.5 781.5 202.5 782.5 201.5 794.5 201.5 795.5 202.5 801.5 202.5 802.5 203.5 803.5 203.5 804.5 204.5 806.5 204.5 807.5 205.5 810.5 205.5 813.5 208.5 813.5 235.5 814.5 236.5 814.5 239.5 815.5 240.5 815.5 241.5 818.5 244.5 819.5 244.5 820.5 245.5 824.5 245.5 825.5 246.5 824.5 247.5 824.5 248.5 823.5 249.5 823.5 254.5 824.5 255.5 824.5 259.5 825.5 260.5 825.5 264.5 826.5 265.5 826.5 266.5 827.5 267.5 827.5 269.5 828.5 270.5 828.5 271.5 829.5 272.5 829.5 274.5 830.5 275.5 830.5 276.5 831.5 277.5 831.5 279.5 832.5 280.5 832.5 281.5 835.5 284.5 835.5 285.5 839.5 289.5 839.5 290.5 841.5 292.5 842.5 292.5 846.5 296.5 847.5 296.5 853.5 302.5 853.5 303.5 857.5 307.5 857.5 308.5 858.5 309.5 859.5 309.5 861.5 311.5 862.5 311.5 863.5 312.5 864.5 312.5 865.5 313.5 866.5 313.5 867.5 314.5 869.5 314.5 870.5 313.5 872.5 313.5 873.5 312.5 875.5 312.5 876.5 311.5 877.5 311.5 877.5 308.5 878.5 307.5 878.5 302.5 879.5 301.5 879.5 298.5 880.5 297.5 880.5 295.5 881.5 294.5 881.5 292.5 882.5 291.5 882.5 289.5 883.5 288.5 883.5 286.5 884.5 285.5 884.5 283.5 885.5 282.5 885.5 280.5 886.5 279.5 886.5 277.5 887.5 276.5 887.5 274.5 888.5 273.5 888.5 271.5 889.5 270.5 889.5 267.5 888.5 266.5 888.5 258.5 887.5 257.5 887.5 220.5 886.5 219.5 886.5 207.5 885.5 206.5 885.5 199.5 884.5 198.5 832.5 198.5 829.5 195.5 829.5 194.5 828.5 193.5 827.5 193.5 825.5 191.5 824.5 191.5 821.5 188.5 820.5 188.5 819.5 187.5 817.5 187.5 816.5 186.5 815.5 186.5 814.5 185.5 810.5 185.5 809.5 184.5 806.5 184.5 805.5 183.5 801.5 183.5 800.5 182.5 789.5 182.5 788.5 181.5z"/>
<path fill="#707070" fill-rule="evenodd" stroke="#707070" stroke-width="1" stroke-linejoin="round" d="M128.5 351.5 128.5 358.5 183.5 358.5 183.5 356.5 182.5 355.5 182.5 352.5 181.5 351.5zM686.5 346.5 685.5 347.5 683.5 347.5 682.5 348.5 680.5 348.5 679.5 349.5 676.5 349.5 675.5 350.5 671.5 350.5 670.5 351.5 663.5 351.5 662.5 352.5 661.5 352.5 661.5 354.5 660.5 355.5 660.5 358.5 689.5 358.5 689.5 353.5 690.5 352.5 690.5 347.5 687.5 347.5zM1090.5 344.5 1089.5 345.5 1083.5 345.5 1082.5 346.5 1079.5 346.5 1078.5 347.5 1075.5 347.5 1074.5 348.5 1072.5 348.5 1071.5 349.5 1071.5 358.5 1093.5 358.5 1093.5 344.5zM254.5 342.5 253.5 343.5 250.5 343.5 249.5 344.5 248.5 344.5 247.5 345.5 246.5 345.5 244.5 347.5 243.5 347.5 242.5 348.5 241.5 348.5 240.5 349.5 239.5 349.5 238.5 350.5 234.5 350.5 233.5 351.5 227.5 351.5 226.5 352.5 225.5 352.5 224.5 353.5 224.5 358.5 270.5 358.5 275.5 353.5 289.5 353.5 290.5 352.5 302.5 352.5 303.5 351.5 309.5 351.5 310.5 350.5 317.5 350.5 318.5 349.5 324.5 349.5 325.5 348.5 332.5 348.5 333.5 347.5 339.5 347.5 340.5 346.5 351.5 346.5 352.5 347.5 372.5 347.5 373.5 348.5 411.5 348.5 412.5 349.5 413.5 349.5 414.5 350.5 415.5 350.5 416.5 351.5 417.5 351.5 418.5 352.5 419.5 352.5 420.5 353.5 421.5 353.5 422.5 354.5 428.5 354.5 429.5 353.5 430.5 353.5 431.5 352.5 432.5 352.5 433.5 351.5 434.5 351.5 435.5 350.5 436.5 350.5 437.5 349.5 438.5 349.5 439.5 348.5 478.5 348.5 480.5 346.5 481.5 346.5 482.5 345.5 482.5 344.5 481.5 343.5 480.5 343.5 479.5 342.5 356.5 342.5 355.5 343.5 353.5 343.5 352.5 344.5 350.5 344.5 349.5 345.5 346.5 345.5 345.5 346.5 343.5 346.5 342.5 345.5 339.5 345.5 338.5 344.5 335.5 344.5 334.5 343.5 331.5 343.5 330.5 342.5zM189 339h1v1h-1zM494.5 337.5 493.5 338.5 492.5 338.5 491.5 339.5 490.5 339.5 489.5 340.5 488.5 340.5 488.5 341.5 489.5 342.5 489.5 344.5 490.5 345.5 492.5 345.5 493.5 346.5 496.5 346.5 497.5 347.5 597.5 347.5 598.5 346.5 600.5 346.5 603.5 343.5 602.5 342.5 601.5 342.5 600.5 341.5 597.5 341.5 596.5 340.5 590.5 340.5 589.5 339.5 582.5 339.5 581.5 338.5 575.5 338.5 574.5 337.5zM865.5 247.5 866.5 246.5 867.5 247.5 866.5 248.5zM408.5 228.5 407.5 229.5 407.5 231.5 409.5 231.5 409.5 228.5zM942.5 217.5 941.5 218.5 940.5 218.5 939.5 219.5 939.5 221.5 940.5 222.5 945.5 222.5 946.5 221.5 947.5 221.5 948.5 220.5 948.5 218.5 947.5 217.5zM189.5 206.5 189.5 214.5 190.5 214.5 190.5 212.5 191.5 211.5 191.5 209.5 190.5 208.5 190.5 206.5zM342.5 205.5 341.5 206.5 341.5 208.5 344.5 211.5 345.5 211.5 347.5 213.5 348.5 213.5 351.5 216.5 352.5 216.5 354.5 218.5 356.5 218.5 357.5 217.5 357.5 215.5 356.5 214.5 356.5 211.5 354.5 209.5 354.5 208.5 352.5 206.5 351.5 206.5 350.5 205.5zM320.5 203.5 319.5 204.5 317.5 204.5 316.5 205.5 315.5 205.5 315.5 206.5 314.5 207.5 314.5 208.5 310.5 212.5 308.5 212.5 306.5 214.5 305.5 214.5 306.5 215.5 324.5 215.5 326.5 213.5 326.5 206.5 325.5 205.5 325.5 204.5 322.5 204.5 321.5 203.5zM870.5 201.5 869.5 202.5 868.5 202.5 867.5 203.5 867.5 204.5 866.5 205.5 866.5 206.5 865.5 207.5 865.5 214.5 866.5 215.5 866.5 217.5 869.5 220.5 874.5 220.5 877.5 217.5 877.5 216.5 878.5 215.5 878.5 206.5 877.5 205.5 877.5 204.5 874.5 201.5zM736.5 200.5 735.5 201.5 734.5 201.5 734.5 202.5 733.5 203.5 733.5 204.5 734.5 205.5 734.5 206.5 735.5 207.5 740.5 207.5 742.5 205.5 742.5 203.5 741.5 202.5 741.5 201.5 740.5 201.5 739.5 200.5zM698.5 198.5 696.5 200.5 696.5 211.5 701.5 216.5 704.5 216.5 705.5 217.5 707.5 217.5 708.5 218.5 709.5 218.5 713.5 222.5 713.5 229.5 714.5 230.5 714.5 234.5 715.5 235.5 715.5 236.5 717.5 238.5 722.5 238.5 723.5 237.5 724.5 237.5 725.5 236.5 725.5 222.5 724.5 221.5 724.5 220.5 723.5 220.5 721.5 218.5 721.5 213.5 720.5 212.5 720.5 211.5 718.5 209.5 717.5 209.5 716.5 208.5 715.5 208.5 714.5 207.5 713.5 207.5 708.5 202.5 707.5 202.5 703.5 198.5zM779.5 184.5 778.5 185.5 775.5 185.5 774.5 186.5 773.5 186.5 772.5 187.5 770.5 187.5 769.5 188.5 768.5 188.5 766.5 190.5 766.5 192.5 765.5 193.5 765.5 217.5 766.5 218.5 766.5 220.5 768.5 222.5 769.5 222.5 770.5 223.5 773.5 223.5 774.5 222.5 775.5 222.5 777.5 220.5 777.5 219.5 778.5 218.5 778.5 199.5 780.5 197.5 784.5 197.5 785.5 198.5 798.5 198.5 799.5 199.5 799.5 200.5 800.5 201.5 801.5 201.5 803.5 203.5 805.5 203.5 806.5 204.5 809.5 204.5 810.5 205.5 813.5 205.5 814.5 204.5 816.5 206.5 816.5 214.5 817.5 215.5 817.5 238.5 821.5 242.5 825.5 242.5 826.5 243.5 826.5 245.5 825.5 246.5 825.5 248.5 826.5 249.5 826.5 250.5 827.5 251.5 827.5 252.5 828.5 253.5 828.5 254.5 829.5 255.5 829.5 256.5 830.5 257.5 830.5 258.5 831.5 259.5 831.5 261.5 832.5 262.5 832.5 263.5 833.5 264.5 833.5 265.5 834.5 266.5 834.5 268.5 835.5 269.5 835.5 270.5 836.5 271.5 836.5 272.5 837.5 273.5 837.5 274.5 839.5 276.5 839.5 277.5 841.5 279.5 841.5 280.5 842.5 281.5 842.5 282.5 845.5 285.5 846.5 285.5 848.5 287.5 849.5 287.5 851.5 289.5 852.5 289.5 855.5 292.5 856.5 292.5 859.5 295.5 860.5 295.5 864.5 299.5 865.5 299.5 866.5 300.5 868.5 300.5 869.5 301.5 869.5 299.5 868.5 298.5 868.5 297.5 867.5 296.5 867.5 295.5 866.5 294.5 866.5 293.5 865.5 292.5 865.5 290.5 864.5 289.5 864.5 287.5 863.5 286.5 863.5 283.5 862.5 282.5 862.5 279.5 861.5 278.5 861.5 271.5 862.5 270.5 862.5 268.5 863.5 267.5 863.5 265.5 864.5 264.5 864.5 262.5 865.5 261.5 865.5 259.5 866.5 258.5 866.5 256.5 867.5 255.5 867.5 253.5 868.5 252.5 868.5 250.5 866.5 248.5 867.5 247.5 871.5 247.5 872.5 246.5 873.5 246.5 876.5 243.5 876.5 242.5 877.5 241.5 877.5 233.5 875.5 231.5 875.5 230.5 874.5 229.5 873.5 229.5 872.5 228.5 870.5 228.5 869.5 227.5 868.5 227.5 867.5 228.5 865.5 228.5 864.5 229.5 863.5 229.5 862.5 230.5 862.5 231.5 861.5 232.5 861.5 233.5 860.5 234.5 860.5 240.5 861.5 241.5 861.5 242.5 862.5 243.5 861.5 244.5 843.5 244.5 842.5 243.5 836.5 243.5 835.5 242.5 830.5 242.5 828.5 240.5 828.5 239.5 829.5 238.5 829.5 236.5 830.5 235.5 830.5 216.5 829.5 215.5 829.5 205.5 828.5 204.5 828.5 199.5 827.5 198.5 827.5 197.5 826.5 196.5 826.5 195.5 825.5 194.5 825.5 193.5 824.5 192.5 824.5 191.5 823.5 190.5 822.5 190.5 821.5 189.5 820.5 189.5 819.5 188.5 818.5 188.5 817.5 187.5 804.5 187.5 803.5 186.5 798.5 186.5 797.5 185.5 785.5 185.5 784.5 184.5z"/>
<path fill="#555555" fill-rule="evenodd" stroke="#555555" stroke-width="1" stroke-linejoin="round" d="M128.5 352.5 128.5 358.5 181.5 358.5 181.5 353.5 180.5 352.5zM682.5 348.5 681.5 349.5 679.5 349.5 678.5 350.5 675.5 350.5 674.5 351.5 667.5 351.5 666.5 352.5 666.5 354.5 665.5 355.5 665.5 358.5 684.5 358.5 684.5 348.5zM1088.5 347.5 1087.5 348.5 1085.5 348.5 1084.5 349.5 1083.5 349.5 1082.5 350.5 1080.5 350.5 1079.5 351.5 1078.5 351.5 1078.5 358.5 1093.5 358.5 1093.5 347.5zM356.5 343.5 355.5 344.5 354.5 344.5 354.5 345.5 356.5 345.5 357.5 346.5 365.5 346.5 366.5 347.5 409.5 347.5 410.5 348.5 411.5 348.5 412.5 349.5 413.5 349.5 414.5 350.5 415.5 350.5 416.5 351.5 417.5 351.5 418.5 352.5 419.5 352.5 420.5 353.5 429.5 353.5 430.5 352.5 431.5 352.5 432.5 351.5 433.5 351.5 434.5 350.5 435.5 350.5 436.5 349.5 437.5 349.5 438.5 348.5 440.5 348.5 441.5 347.5 478.5 347.5 479.5 346.5 480.5 346.5 481.5 345.5 481.5 344.5 480.5 343.5zM255.5 343.5 254.5 344.5 252.5 344.5 251.5 345.5 250.5 345.5 249.5 346.5 247.5 346.5 246.5 347.5 245.5 347.5 244.5 348.5 243.5 348.5 242.5 349.5 241.5 349.5 240.5 350.5 237.5 350.5 236.5 351.5 232.5 351.5 231.5 352.5 227.5 352.5 225.5 354.5 225.5 358.5 270.5 358.5 271.5 357.5 271.5 356.5 274.5 353.5 281.5 353.5 282.5 352.5 298.5 352.5 299.5 351.5 306.5 351.5 307.5 350.5 313.5 350.5 314.5 349.5 319.5 349.5 320.5 348.5 323.5 348.5 324.5 347.5 326.5 347.5 325.5 347.5 324.5 346.5 321.5 346.5 320.5 345.5 315.5 345.5 314.5 344.5 306.5 344.5 305.5 343.5zM513.5 339.5 513.5 340.5 516.5 340.5 517.5 341.5 529.5 341.5 530.5 342.5 545.5 342.5 546.5 343.5 560.5 343.5 561.5 344.5 568.5 344.5 569.5 345.5 576.5 345.5 577.5 346.5 593.5 346.5 594.5 345.5 598.5 345.5 599.5 344.5 600.5 344.5 600.5 343.5 599.5 343.5 598.5 342.5 592.5 342.5 591.5 341.5 584.5 341.5 583.5 340.5 576.5 340.5 575.5 339.5zM841.5 250.5 839.5 252.5 839.5 254.5 841.5 256.5 845.5 256.5 846.5 255.5 846.5 252.5 844.5 250.5zM867.5 230.5 866.5 231.5 865.5 231.5 864.5 232.5 864.5 233.5 863.5 234.5 863.5 239.5 864.5 240.5 864.5 241.5 866.5 243.5 871.5 243.5 874.5 240.5 874.5 233.5 871.5 230.5zM718.5 223.5 718.5 225.5 717.5 226.5 717.5 234.5 718.5 235.5 718.5 236.5 719.5 236.5 719.5 235.5 720.5 234.5 720.5 225.5 719.5 224.5 719.5 223.5zM944.5 220.5 944.5 221.5zM190.5 208.5 189.5 209.5 189.5 211.5 190.5 212.5zM322.5 206.5 321.5 207.5 320.5 207.5 320.5 208.5 316.5 212.5 318.5 212.5 319.5 213.5 323.5 213.5 324.5 212.5 324.5 206.5zM349.5 205.5 348.5 206.5 346.5 206.5 346.5 209.5 353.5 216.5 356.5 216.5 356.5 212.5 355.5 211.5 355.5 210.5 351.5 206.5 350.5 206.5zM871.5 203.5 868.5 206.5 868.5 208.5 867.5 209.5 867.5 212.5 868.5 213.5 868.5 214.5 869.5 215.5 869.5 216.5 870.5 216.5 871.5 217.5 873.5 217.5 875.5 215.5 875.5 214.5 876.5 213.5 876.5 207.5 875.5 206.5 875.5 205.5 874.5 204.5 873.5 204.5 872.5 203.5zM736.5 202.5 736.5 205.5 738.5 205.5 738.5 202.5zM701.5 200.5 700.5 201.5 700.5 207.5 701.5 208.5 701.5 210.5 702.5 211.5 703.5 211.5 704.5 212.5 705.5 212.5 706.5 213.5 707.5 213.5 708.5 214.5 709.5 214.5 710.5 215.5 718.5 215.5 718.5 214.5 717.5 213.5 717.5 212.5 715.5 210.5 714.5 210.5 713.5 209.5 712.5 209.5 711.5 208.5 710.5 208.5 706.5 204.5 706.5 203.5 705.5 202.5 705.5 201.5 704.5 200.5zM778.5 187.5 777.5 188.5 772.5 188.5 768.5 192.5 768.5 214.5 769.5 215.5 769.5 216.5 774.5 216.5 775.5 215.5 775.5 213.5 776.5 212.5 776.5 199.5 778.5 197.5 780.5 197.5 782.5 195.5 786.5 195.5 787.5 196.5 800.5 196.5 803.5 199.5 804.5 199.5 805.5 200.5 806.5 200.5 807.5 201.5 814.5 201.5 815.5 202.5 816.5 202.5 818.5 204.5 818.5 210.5 819.5 211.5 819.5 231.5 820.5 232.5 820.5 233.5 821.5 234.5 825.5 234.5 827.5 232.5 827.5 209.5 826.5 208.5 826.5 201.5 825.5 200.5 825.5 198.5 824.5 197.5 823.5 197.5 822.5 196.5 823.5 195.5 822.5 194.5 822.5 193.5 820.5 191.5 819.5 191.5 818.5 190.5 816.5 190.5 815.5 189.5 808.5 189.5 807.5 190.5 806.5 190.5 805.5 189.5 802.5 189.5 801.5 188.5 788.5 188.5 787.5 187.5z"/>
<line x1="128" y1="321.7" x2="1094" y2="321.7" stroke="#888" stroke-width="1" stroke-dasharray="1 1"/>
<line x1="128" y1="284.4" x2="1094" y2="284.4" stroke="#888" stroke-width="1" stroke-dasharray="1 1"/>
<line x1="128" y1="247.1" x2="1094" y2="247.1" stroke="#888" stroke-width="1" stroke-dasharray="1 1"/>
<line x1="128" y1="209.8" x2="1094" y2="209.8" stroke="#888" stroke-width="1" stroke-dasharray="1 1"/>
<line x1="128" y1="172.5" x2="1094" y2="172.5" stroke="#888" stroke-width="1" stroke-dasharray="1 1"/>
<line x1="128" y1="310.3" x2="1094" y2="310.3" stroke="#555" stroke-width="1.3"/>
<polyline points="127.5,277.5 143.4,296.0 156.5,304.1 172.4,308.5 191.0,284.8 201.2,266.5 207.3,251.3 213.0,243.5 223.6,258.4 230.7,262.9 293.5,283.8 303.7,284.4 309.7,282.4 315.8,277.7 333.1,256.4 340.2,254.0 346.3,255.4 362.5,273.0 379.8,283.2 396.0,291.9 420.3,295.0 432.5,297.0 440.6,296.0 448.7,293.4 460.9,283.2 472.1,270.6 478.8,267.2 483.7,268.2 500.5,285.8 517.8,294.0 535.0,301.0 552.4,303.8 572.3,302.8 586.0,299.6 594.7,294.6 605.8,282.2 615.8,271.7 621.5,272.2 629.4,281.0 639.4,291.6 654.3,300.8 672.9,310.0 689.0,308.3 699.9,307.0 717.3,303.3 726.0,295.8 735.9,279.7 745.8,264.8 753.3,256.8 759.5,256.3 765.7,261.0 779.4,274.7 794.3,281.7 806.7,282.7 824.1,281.4 834.9,280.4 844.8,278.4 857.3,274.7 864.7,270.9 873.4,261.7 883.4,247.3 890.8,237.4 897.5,234.9 904.5,237.9 913.2,246.1 921.9,254.8 935.5,262.7 949.2,267.7 961.0,271.5 970.0,273.3 986.1,274.1 995.2,271.8 1003.1,265.5 1012.1,249.7 1020.0,231.6 1026.8,220.3 1031.3,215.8 1036.5,214.7 1042.6,219.2 1051.6,229.4 1060.7,240.7 1072.0,248.6 1085.5,254.7 1094.5,258.5" fill="none" stroke="#f00" stroke-width="3.4" stroke-linejoin="round" clip-path="url(#pc)"/>
<line x1="265.5" y1="97.5" x2="265.5" y2="359" stroke="#666" stroke-width="1" stroke-opacity="0.35"/>
<line x1="403.5" y1="97.5" x2="403.5" y2="359" stroke="#666" stroke-width="1" stroke-opacity="0.35"/>
<line x1="542.5" y1="97.5" x2="542.5" y2="359" stroke="#666" stroke-width="1" stroke-opacity="0.35"/>
<line x1="680.5" y1="97.5" x2="680.5" y2="359" stroke="#666" stroke-width="1" stroke-opacity="0.35"/>
<line x1="818.5" y1="97.5" x2="818.5" y2="359" stroke="#666" stroke-width="1" stroke-opacity="0.35"/>
<line x1="956.5" y1="97.5" x2="956.5" y2="359" stroke="#666" stroke-width="1" stroke-opacity="0.35"/>
<text transform="translate(161.6,327.7) scale(1.05,1)" class="ds" font-size="17" text-anchor="middle" fill="#000">0</text>
<text transform="translate(213.0,264.2) scale(1.05,1)" class="ds" font-size="17" text-anchor="middle" fill="#000">7</text>
<text transform="translate(299.6,306.9) scale(1.05,1)" class="ds" font-size="17" text-anchor="middle" fill="#000">2</text>
<text transform="translate(339.6,274.8) scale(1.05,1)" class="ds" font-size="17" text-anchor="middle" fill="#000">6</text>
<text transform="translate(431.5,318.4) scale(1.05,1)" class="ds" font-size="17" text-anchor="middle" fill="#000">1</text>
<text transform="translate(478.8,289.0) scale(1.05,1)" class="ds" font-size="17" text-anchor="middle" fill="#000">4</text>
<text transform="translate(558.6,326.2) scale(1.05,1)" class="ds" font-size="17" text-anchor="middle" fill="#000">1</text>
<text transform="translate(617.5,293.3) scale(1.05,1)" class="ds" font-size="17" text-anchor="middle" fill="#000">4</text>
<text transform="translate(674.2,333.1) scale(1.05,1)" class="ds" font-size="17" text-anchor="middle" fill="#000">-0</text>
<text transform="translate(760.7,277.9) scale(1.05,1)" class="ds" font-size="17" text-anchor="middle" fill="#000">5</text>
<text transform="translate(806.7,305.2) scale(1.05,1)" class="ds" font-size="17" text-anchor="middle" fill="#000">3</text>
<text transform="translate(898.3,256.0) scale(1.05,1)" class="ds" font-size="17" text-anchor="middle" fill="#000">8</text>
<text transform="translate(985.5,297.7) scale(1.05,1)" class="ds" font-size="17" text-anchor="middle" fill="#000">4</text>
<text transform="translate(1036.5,236.7) scale(1.05,1)" class="ds" font-size="17" text-anchor="middle" fill="#000">10</text>
<text transform="translate(1094.6,279.6) scale(1.05,1)" class="ds" font-size="17" text-anchor="middle" fill="#000">5</text>
<line x1="220" y1="97.5" x2="220" y2="359" stroke="#111" stroke-width="2" stroke-dasharray="5 3"/>
<rect x="127.65" y="97.55" width="966.7" height="261.7" fill="none" stroke="#000" stroke-width="1.25"/>
<g clip-path="url(#ic)">
<path d="M147.28 101.5A11.78 11.78 0 1 0 145.68 125A16.37 16.37 0 0 1 147.28 101.5Z" fill="#fff" stroke="#000" stroke-width="1.8" stroke-linejoin="round"/><circle cx="143.48" cy="121.5" r="4.3" fill="#2c4f78"/><circle cx="147.48" cy="118.5" r="4.4" fill="#2c4f78"/><circle cx="152.38" cy="120.5" r="4.6" fill="#2c4f78"/><rect x="143.48" y="118.5" width="8.9" height="6.8" fill="#2c4f78"/><circle cx="143.48" cy="121.5" r="3" fill="#d3d3d3"/><circle cx="147.48" cy="118.5" r="3.1" fill="#d3d3d3"/><circle cx="152.38" cy="120.5" r="3.3" fill="#d3d3d3"/><rect x="143.48" y="118.5" width="8.9" height="5.5" fill="#d3d3d3"/><path d="M143.96 119.78A3.75 3.75 0 0 1 147.15 114.76" fill="none" stroke="#2c4f78" stroke-width="1.3" stroke-linecap="round"/>
<line x1="170.92" y1="110.64" x2="166.71" y2="109.74" stroke="#f0a020" stroke-width="3.2" stroke-linecap="round"/><line x1="170.92" y1="110.64" x2="166.71" y2="109.74" stroke="#f3e41c" stroke-width="2.2" stroke-linecap="round"/><line x1="174.04" y1="105.83" x2="171.51" y2="102.35" stroke="#f0a020" stroke-width="3.2" stroke-linecap="round"/><line x1="174.04" y1="105.83" x2="171.51" y2="102.35" stroke="#f3e41c" stroke-width="2.2" stroke-linecap="round"/><line x1="180.13" y1="104.42" x2="180.88" y2="100.19" stroke="#f0a020" stroke-width="3.2" stroke-linecap="round"/><line x1="180.13" y1="104.42" x2="180.88" y2="100.19" stroke="#f3e41c" stroke-width="2.2" stroke-linecap="round"/><line x1="185.93" y1="108.79" x2="189.8" y2="106.91" stroke="#f0a020" stroke-width="3.2" stroke-linecap="round"/><line x1="185.93" y1="108.79" x2="189.8" y2="106.91" stroke="#f3e41c" stroke-width="2.2" stroke-linecap="round"/><line x1="186.51" y1="114.24" x2="190.68" y2="115.28" stroke="#f0a020" stroke-width="3.2" stroke-linecap="round"/><line x1="186.51" y1="114.24" x2="190.68" y2="115.28" stroke="#f3e41c" stroke-width="2.2" stroke-linecap="round"/><circle cx="178.74" cy="112.3" r="6.6" fill="#f3e41c" stroke="#f0a020" stroke-width="0.9"/><line x1="163.14" y1="119.6" x2="195.14" y2="119.6" stroke="#e8d84a" stroke-width="1" stroke-dasharray="3 4"/><line x1="161.84" y1="123.1" x2="196.44" y2="123.1" stroke="#cfcfc0" stroke-width="1"/><line x1="161.84" y1="117.5" x2="196.44" y2="117.5" stroke="#4f7bc6" stroke-width="2"/><line x1="161.84" y1="121" x2="196.44" y2="121" stroke="#4f7bc6" stroke-width="1.8"/><line x1="163.94" y1="125.5" x2="195.24" y2="125.5" stroke="#5a82c4" stroke-width="2.6"/>
<line x1="205.48" y1="110.64" x2="201.28" y2="109.74" stroke="#f0a020" stroke-width="3.2" stroke-linecap="round"/><line x1="205.48" y1="110.64" x2="201.28" y2="109.74" stroke="#f3e41c" stroke-width="2.2" stroke-linecap="round"/><line x1="208.6" y1="105.83" x2="206.08" y2="102.35" stroke="#f0a020" stroke-width="3.2" stroke-linecap="round"/><line x1="208.6" y1="105.83" x2="206.08" y2="102.35" stroke="#f3e41c" stroke-width="2.2" stroke-linecap="round"/><line x1="214.7" y1="104.42" x2="215.44" y2="100.19" stroke="#f0a020" stroke-width="3.2" stroke-linecap="round"/><line x1="214.7" y1="104.42" x2="215.44" y2="100.19" stroke="#f3e41c" stroke-width="2.2" stroke-linecap="round"/><line x1="220.5" y1="108.79" x2="224.36" y2="106.91" stroke="#f0a020" stroke-width="3.2" stroke-linecap="round"/><line x1="220.5" y1="108.79" x2="224.36" y2="106.91" stroke="#f3e41c" stroke-width="2.2" stroke-linecap="round"/><line x1="221.07" y1="114.24" x2="225.24" y2="115.28" stroke="#f0a020" stroke-width="3.2" stroke-linecap="round"/><line x1="221.07" y1="114.24" x2="225.24" y2="115.28" stroke="#f3e41c" stroke-width="2.2" stroke-linecap="round"/><circle cx="213.31" cy="112.3" r="6.6" fill="#f3e41c" stroke="#f0a020" stroke-width="0.9"/><line x1="197.71" y1="119.6" x2="229.71" y2="119.6" stroke="#e8d84a" stroke-width="1" stroke-dasharray="3 4"/><line x1="196.41" y1="123.1" x2="231.01" y2="123.1" stroke="#cfcfc0" stroke-width="1"/><line x1="196.41" y1="117.5" x2="231.01" y2="117.5" stroke="#4f7bc6" stroke-width="2"/><line x1="196.41" y1="121" x2="231.01" y2="121" stroke="#4f7bc6" stroke-width="1.8"/><line x1="198.51" y1="125.5" x2="229.81" y2="125.5" stroke="#5a82c4" stroke-width="2.6"/>
<path d="M251.57 101.2A12.1 12.1 0 1 0 251.57 125.4A16.46 16.46 0 0 1 251.57 101.2Z" fill="#fff" stroke="#000" stroke-width="1.8" stroke-linejoin="round"/><line x1="230.97" y1="115.6" x2="265.57" y2="115.6" stroke="#2f5585" stroke-width="1.6"/><line x1="230.97" y1="118.8" x2="265.57" y2="118.8" stroke="#2f5585" stroke-width="1.5"/><line x1="232.47" y1="123.5" x2="263.77" y2="123.5" stroke="#2f5585" stroke-width="2.6"/>
<path d="M286.13 101.2A12.1 12.1 0 1 0 286.13 125.4A16.46 16.46 0 0 1 286.13 101.2Z" fill="#fff" stroke="#000" stroke-width="1.8" stroke-linejoin="round"/><line x1="265.53" y1="115.6" x2="300.13" y2="115.6" stroke="#2f5585" stroke-width="1.6"/><line x1="265.53" y1="118.8" x2="300.13" y2="118.8" stroke="#2f5585" stroke-width="1.5"/><line x1="267.03" y1="123.5" x2="298.33" y2="123.5" stroke="#2f5585" stroke-width="2.6"/>
<line x1="309.17" y1="110.64" x2="304.96" y2="109.74" stroke="#f0a020" stroke-width="3.2" stroke-linecap="round"/><line x1="309.17" y1="110.64" x2="304.96" y2="109.74" stroke="#f3e41c" stroke-width="2.2" stroke-linecap="round"/><line x1="312.29" y1="105.83" x2="309.76" y2="102.35" stroke="#f0a020" stroke-width="3.2" stroke-linecap="round"/><line x1="312.29" y1="105.83" x2="309.76" y2="102.35" stroke="#f3e41c" stroke-width="2.2" stroke-linecap="round"/><line x1="318.38" y1="104.42" x2="319.13" y2="100.19" stroke="#f0a020" stroke-width="3.2" stroke-linecap="round"/><line x1="318.38" y1="104.42" x2="319.13" y2="100.19" stroke="#f3e41c" stroke-width="2.2" stroke-linecap="round"/><line x1="324.18" y1="108.79" x2="328.05" y2="106.91" stroke="#f0a020" stroke-width="3.2" stroke-linecap="round"/><line x1="324.18" y1="108.79" x2="328.05" y2="106.91" stroke="#f3e41c" stroke-width="2.2" stroke-linecap="round"/><line x1="324.76" y1="114.24" x2="328.93" y2="115.28" stroke="#f0a020" stroke-width="3.2" stroke-linecap="round"/><line x1="324.76" y1="114.24" x2="328.93" y2="115.28" stroke="#f3e41c" stroke-width="2.2" stroke-linecap="round"/><circle cx="316.99" cy="112.3" r="6.6" fill="#f3e41c" stroke="#f0a020" stroke-width="0.9"/><line x1="301.39" y1="119.6" x2="333.39" y2="119.6" stroke="#e8d84a" stroke-width="1" stroke-dasharray="3 4"/><line x1="300.09" y1="123.1" x2="334.69" y2="123.1" stroke="#cfcfc0" stroke-width="1"/><line x1="300.09" y1="117.5" x2="334.69" y2="117.5" stroke="#4f7bc6" stroke-width="2"/><line x1="300.09" y1="121" x2="334.69" y2="121" stroke="#4f7bc6" stroke-width="1.8"/><line x1="302.19" y1="125.5" x2="333.49" y2="125.5" stroke="#5a82c4" stroke-width="2.6"/>
<circle cx="340.26" cy="118" r="6.2" fill="#2b5fc1"/><circle cx="349.86" cy="110.7" r="6.6" fill="#2b5fc1"/><circle cx="361.96" cy="113.6" r="6.1" fill="#2b5fc1"/><rect x="340.26" y="110.7" width="21.7" height="13.9" fill="#2b5fc1"/><circle cx="340.26" cy="118" r="4.5" fill="#d3d3d3"/><circle cx="349.86" cy="110.7" r="4.9" fill="#d3d3d3"/><circle cx="361.96" cy="113.6" r="4.4" fill="#d3d3d3"/><rect x="340.26" y="110.7" width="21.7" height="12.2" fill="#d3d3d3"/><circle cx="345.56" cy="121" r="4.8" fill="#2b5fc1"/><circle cx="353.76" cy="117.3" r="6" fill="#2b5fc1"/><circle cx="361.56" cy="121" r="5" fill="#2b5fc1"/><rect x="345.56" y="117.3" width="16" height="8.8" fill="#2b5fc1"/><circle cx="345.56" cy="121" r="3.1" fill="#fff"/><circle cx="353.76" cy="117.3" r="4.3" fill="#fff"/><circle cx="361.56" cy="121" r="3.3" fill="#fff"/><rect x="345.56" y="117.3" width="16" height="7.1" fill="#fff"/><path d="M357.66 122.42A4.15 4.15 0 0 1 361.19 116.87" fill="none" stroke="#2b5fc1" stroke-width="1.7" stroke-linecap="round"/>
<circle cx="374.82" cy="118" r="6.2" fill="#2a4a6e"/><circle cx="384.42" cy="110.7" r="6.6" fill="#2a4a6e"/><circle cx="396.52" cy="113.6" r="6.1" fill="#2a4a6e"/><rect x="374.82" y="110.7" width="21.7" height="13.9" fill="#2a4a6e"/><circle cx="374.82" cy="118" r="4.5" fill="#d3d3d3"/><circle cx="384.42" cy="110.7" r="4.9" fill="#d3d3d3"/><circle cx="396.52" cy="113.6" r="4.4" fill="#d3d3d3"/><rect x="374.82" y="110.7" width="21.7" height="12.2" fill="#d3d3d3"/><circle cx="380.12" cy="121" r="4.8" fill="#2a4a6e"/><circle cx="388.32" cy="117.3" r="6" fill="#2a4a6e"/><circle cx="396.12" cy="121" r="5" fill="#2a4a6e"/><rect x="380.12" y="117.3" width="16" height="8.8" fill="#2a4a6e"/><circle cx="380.12" cy="121" r="3.1" fill="#fff"/><circle cx="388.32" cy="117.3" r="4.3" fill="#fff"/><circle cx="396.12" cy="121" r="3.3" fill="#fff"/><rect x="380.12" y="117.3" width="16" height="7.1" fill="#fff"/><path d="M392.22 122.42A4.15 4.15 0 0 1 395.76 116.87" fill="none" stroke="#2a4a6e" stroke-width="1.7" stroke-linecap="round"/>
<path d="M424.38 101.2A12.1 12.1 0 1 0 424.38 125.4A16.46 16.46 0 0 1 424.38 101.2Z" fill="#fff" stroke="#000" stroke-width="1.8" stroke-linejoin="round"/><line x1="403.78" y1="115.6" x2="438.38" y2="115.6" stroke="#2f5585" stroke-width="1.6"/><line x1="403.78" y1="118.8" x2="438.38" y2="118.8" stroke="#2f5585" stroke-width="1.5"/><line x1="405.28" y1="123.5" x2="436.58" y2="123.5" stroke="#2f5585" stroke-width="2.6"/>
<line x1="447.42" y1="110.64" x2="443.21" y2="109.74" stroke="#f0a020" stroke-width="3.2" stroke-linecap="round"/><line x1="447.42" y1="110.64" x2="443.21" y2="109.74" stroke="#f3e41c" stroke-width="2.2" stroke-linecap="round"/><line x1="450.54" y1="105.83" x2="448.01" y2="102.35" stroke="#f0a020" stroke-width="3.2" stroke-linecap="round"/><line x1="450.54" y1="105.83" x2="448.01" y2="102.35" stroke="#f3e41c" stroke-width="2.2" stroke-linecap="round"/><line x1="456.63" y1="104.42" x2="457.38" y2="100.19" stroke="#f0a020" stroke-width="3.2" stroke-linecap="round"/><line x1="456.63" y1="104.42" x2="457.38" y2="100.19" stroke="#f3e41c" stroke-width="2.2" stroke-linecap="round"/><line x1="462.43" y1="108.79" x2="466.3" y2="106.91" stroke="#f0a020" stroke-width="3.2" stroke-linecap="round"/><line x1="462.43" y1="108.79" x2="466.3" y2="106.91" stroke="#f3e41c" stroke-width="2.2" stroke-linecap="round"/><line x1="463.01" y1="114.24" x2="467.18" y2="115.28" stroke="#f0a020" stroke-width="3.2" stroke-linecap="round"/><line x1="463.01" y1="114.24" x2="467.18" y2="115.28" stroke="#f3e41c" stroke-width="2.2" stroke-linecap="round"/><circle cx="455.24" cy="112.3" r="6.6" fill="#f3e41c" stroke="#f0a020" stroke-width="0.9"/><line x1="439.64" y1="119.6" x2="471.64" y2="119.6" stroke="#e8d84a" stroke-width="1" stroke-dasharray="3 4"/><line x1="438.34" y1="123.1" x2="472.94" y2="123.1" stroke="#cfcfc0" stroke-width="1"/><line x1="438.34" y1="117.5" x2="472.94" y2="117.5" stroke="#4f7bc6" stroke-width="2"/><line x1="438.34" y1="121" x2="472.94" y2="121" stroke="#4f7bc6" stroke-width="1.8"/><line x1="440.44" y1="125.5" x2="471.74" y2="125.5" stroke="#5a82c4" stroke-width="2.6"/>
<circle cx="478.51" cy="118" r="6.2" fill="#2b5fc1"/><circle cx="488.11" cy="110.7" r="6.6" fill="#2b5fc1"/><circle cx="500.21" cy="113.6" r="6.1" fill="#2b5fc1"/><rect x="478.51" y="110.7" width="21.7" height="13.9" fill="#2b5fc1"/><circle cx="478.51" cy="118" r="4.5" fill="#d3d3d3"/><circle cx="488.11" cy="110.7" r="4.9" fill="#d3d3d3"/><circle cx="500.21" cy="113.6" r="4.4" fill="#d3d3d3"/><rect x="478.51" y="110.7" width="21.7" height="12.2" fill="#d3d3d3"/><circle cx="483.81" cy="121" r="4.8" fill="#2b5fc1"/><circle cx="492.01" cy="117.3" r="6" fill="#2b5fc1"/><circle cx="499.81" cy="121" r="5" fill="#2b5fc1"/><rect x="483.81" y="117.3" width="16" height="8.8" fill="#2b5fc1"/><circle cx="483.81" cy="121" r="3.1" fill="#fff"/><circle cx="492.01" cy="117.3" r="4.3" fill="#fff"/><circle cx="499.81" cy="121" r="3.3" fill="#fff"/><rect x="483.81" y="117.3" width="16" height="7.1" fill="#fff"/><path d="M495.91 122.42A4.15 4.15 0 0 1 499.44 116.87" fill="none" stroke="#2b5fc1" stroke-width="1.7" stroke-linecap="round"/>
<path d="M528.07 101.2A12.1 12.1 0 1 0 528.07 125.4A16.46 16.46 0 0 1 528.07 101.2Z" fill="#fff" stroke="#000" stroke-width="1.8" stroke-linejoin="round"/><line x1="507.47" y1="115.6" x2="542.07" y2="115.6" stroke="#2f5585" stroke-width="1.6"/><line x1="507.47" y1="118.8" x2="542.07" y2="118.8" stroke="#2f5585" stroke-width="1.5"/><line x1="508.97" y1="123.5" x2="540.27" y2="123.5" stroke="#2f5585" stroke-width="2.6"/>
<path d="M562.63 101.2A12.1 12.1 0 1 0 562.63 125.4A16.46 16.46 0 0 1 562.63 101.2Z" fill="#fff" stroke="#000" stroke-width="1.8" stroke-linejoin="round"/><line x1="542.03" y1="115.6" x2="576.63" y2="115.6" stroke="#2f5585" stroke-width="1.6"/><line x1="542.03" y1="118.8" x2="576.63" y2="118.8" stroke="#2f5585" stroke-width="1.5"/><line x1="543.53" y1="123.5" x2="574.83" y2="123.5" stroke="#2f5585" stroke-width="2.6"/>
<line x1="585.67" y1="110.64" x2="581.46" y2="109.74" stroke="#f0a020" stroke-width="3.2" stroke-linecap="round"/><line x1="585.67" y1="110.64" x2="581.46" y2="109.74" stroke="#f3e41c" stroke-width="2.2" stroke-linecap="round"/><line x1="588.79" y1="105.83" x2="586.26" y2="102.35" stroke="#f0a020" stroke-width="3.2" stroke-linecap="round"/><line x1="588.79" y1="105.83" x2="586.26" y2="102.35" stroke="#f3e41c" stroke-width="2.2" stroke-linecap="round"/><line x1="594.88" y1="104.42" x2="595.63" y2="100.19" stroke="#f0a020" stroke-width="3.2" stroke-linecap="round"/><line x1="594.88" y1="104.42" x2="595.63" y2="100.19" stroke="#f3e41c" stroke-width="2.2" stroke-linecap="round"/><line x1="600.68" y1="108.79" x2="604.55" y2="106.91" stroke="#f0a020" stroke-width="3.2" stroke-linecap="round"/><line x1="600.68" y1="108.79" x2="604.55" y2="106.91" stroke="#f3e41c" stroke-width="2.2" stroke-linecap="round"/><line x1="601.26" y1="114.24" x2="605.43" y2="115.28" stroke="#f0a020" stroke-width="3.2" stroke-linecap="round"/><line x1="601.26" y1="114.24" x2="605.43" y2="115.28" stroke="#f3e41c" stroke-width="2.2" stroke-linecap="round"/><circle cx="593.49" cy="112.3" r="6.6" fill="#f3e41c" stroke="#f0a020" stroke-width="0.9"/><line x1="577.89" y1="119.6" x2="609.89" y2="119.6" stroke="#e8d84a" stroke-width="1" stroke-dasharray="3 4"/><line x1="576.59" y1="123.1" x2="611.19" y2="123.1" stroke="#cfcfc0" stroke-width="1"/><line x1="576.59" y1="117.5" x2="611.19" y2="117.5" stroke="#4f7bc6" stroke-width="2"/><line x1="576.59" y1="121" x2="611.19" y2="121" stroke="#4f7bc6" stroke-width="1.8"/><line x1="578.69" y1="125.5" x2="609.99" y2="125.5" stroke="#5a82c4" stroke-width="2.6"/>
<line x1="623.18" y1="110.61" x2="618.94" y2="109.86" stroke="#f0a020" stroke-width="3.2" stroke-linecap="round"/><line x1="623.18" y1="110.61" x2="618.94" y2="109.86" stroke="#f3e41c" stroke-width="2.2" stroke-linecap="round"/><line x1="626.24" y1="105.61" x2="623.65" y2="102.18" stroke="#f0a020" stroke-width="3.2" stroke-linecap="round"/><line x1="626.24" y1="105.61" x2="623.65" y2="102.18" stroke="#f3e41c" stroke-width="2.2" stroke-linecap="round"/><line x1="632.72" y1="104.17" x2="633.61" y2="99.97" stroke="#f0a020" stroke-width="3.2" stroke-linecap="round"/><line x1="632.72" y1="104.17" x2="633.61" y2="99.97" stroke="#f3e41c" stroke-width="2.2" stroke-linecap="round"/><line x1="638.25" y1="108.49" x2="642.11" y2="106.61" stroke="#f0a020" stroke-width="3.2" stroke-linecap="round"/><line x1="638.25" y1="108.49" x2="642.11" y2="106.61" stroke="#f3e41c" stroke-width="2.2" stroke-linecap="round"/><line x1="638.66" y1="114.47" x2="642.75" y2="115.8" stroke="#f0a020" stroke-width="3.2" stroke-linecap="round"/><line x1="638.66" y1="114.47" x2="642.75" y2="115.8" stroke="#f3e41c" stroke-width="2.2" stroke-linecap="round"/><line x1="635.53" y1="118.63" x2="637.93" y2="122.2" stroke="#f0a020" stroke-width="3.2" stroke-linecap="round"/><line x1="635.53" y1="118.63" x2="637.93" y2="122.2" stroke="#f3e41c" stroke-width="2.2" stroke-linecap="round"/><circle cx="631.06" cy="112" r="6.6" fill="#f3e41c" stroke="#f0a020" stroke-width="0.9"/><circle cx="617.36" cy="122" r="5.2" fill="#2b5fc1"/><circle cx="624.46" cy="118.3" r="5.6" fill="#2b5fc1"/><circle cx="629.76" cy="122.8" r="4.8" fill="#2b5fc1"/><rect x="617.36" y="118.3" width="12.4" height="9.6" fill="#2b5fc1"/><circle cx="617.36" cy="122" r="3.5" fill="#d3d3d3"/><circle cx="624.46" cy="118.3" r="3.9" fill="#d3d3d3"/><circle cx="629.76" cy="122.8" r="3.1" fill="#d3d3d3"/><rect x="617.36" y="118.3" width="12.4" height="7.9" fill="#d3d3d3"/><path d="M626.04 124.15A3.95 3.95 0 0 1 629.41 118.87" fill="none" stroke="#2b5fc1" stroke-width="1.7" stroke-linecap="round"/>
<path d="M666.32 101.2A12.1 12.1 0 1 0 666.32 125.4A16.46 16.46 0 0 1 666.32 101.2Z" fill="#fff" stroke="#000" stroke-width="1.8" stroke-linejoin="round"/><line x1="645.72" y1="115.6" x2="680.32" y2="115.6" stroke="#2f5585" stroke-width="1.6"/><line x1="645.72" y1="118.8" x2="680.32" y2="118.8" stroke="#2f5585" stroke-width="1.5"/><line x1="647.22" y1="123.5" x2="678.52" y2="123.5" stroke="#2f5585" stroke-width="2.6"/>
<path d="M700.88 101.2A12.1 12.1 0 1 0 700.88 125.4A16.46 16.46 0 0 1 700.88 101.2Z" fill="#fff" stroke="#000" stroke-width="1.8" stroke-linejoin="round"/><line x1="680.28" y1="115.6" x2="714.88" y2="115.6" stroke="#2f5585" stroke-width="1.6"/><line x1="680.28" y1="118.8" x2="714.88" y2="118.8" stroke="#2f5585" stroke-width="1.5"/><line x1="681.78" y1="123.5" x2="713.08" y2="123.5" stroke="#2f5585" stroke-width="2.6"/>
<line x1="723.92" y1="110.64" x2="719.71" y2="109.74" stroke="#f0a020" stroke-width="3.2" stroke-linecap="round"/><line x1="723.92" y1="110.64" x2="719.71" y2="109.74" stroke="#f3e41c" stroke-width="2.2" stroke-linecap="round"/><line x1="727.04" y1="105.83" x2="724.51" y2="102.35" stroke="#f0a020" stroke-width="3.2" stroke-linecap="round"/><line x1="727.04" y1="105.83" x2="724.51" y2="102.35" stroke="#f3e41c" stroke-width="2.2" stroke-linecap="round"/><line x1="733.13" y1="104.42" x2="733.88" y2="100.19" stroke="#f0a020" stroke-width="3.2" stroke-linecap="round"/><line x1="733.13" y1="104.42" x2="733.88" y2="100.19" stroke="#f3e41c" stroke-width="2.2" stroke-linecap="round"/><line x1="738.93" y1="108.79" x2="742.8" y2="106.91" stroke="#f0a020" stroke-width="3.2" stroke-linecap="round"/><line x1="738.93" y1="108.79" x2="742.8" y2="106.91" stroke="#f3e41c" stroke-width="2.2" stroke-linecap="round"/><line x1="739.51" y1="114.24" x2="743.68" y2="115.28" stroke="#f0a020" stroke-width="3.2" stroke-linecap="round"/><line x1="739.51" y1="114.24" x2="743.68" y2="115.28" stroke="#f3e41c" stroke-width="2.2" stroke-linecap="round"/><circle cx="731.74" cy="112.3" r="6.6" fill="#f3e41c" stroke="#f0a020" stroke-width="0.9"/><line x1="716.14" y1="119.6" x2="748.14" y2="119.6" stroke="#e8d84a" stroke-width="1" stroke-dasharray="3 4"/><line x1="714.84" y1="123.1" x2="749.44" y2="123.1" stroke="#cfcfc0" stroke-width="1"/><line x1="714.84" y1="117.5" x2="749.44" y2="117.5" stroke="#4f7bc6" stroke-width="2"/><line x1="714.84" y1="121" x2="749.44" y2="121" stroke="#4f7bc6" stroke-width="1.8"/><line x1="716.94" y1="125.5" x2="748.24" y2="125.5" stroke="#5a82c4" stroke-width="2.6"/>
<line x1="761.43" y1="110.61" x2="757.19" y2="109.86" stroke="#f0a020" stroke-width="3.2" stroke-linecap="round"/><line x1="761.43" y1="110.61" x2="757.19" y2="109.86" stroke="#f3e41c" stroke-width="2.2" stroke-linecap="round"/><line x1="764.49" y1="105.61" x2="761.9" y2="102.18" stroke="#f0a020" stroke-width="3.2" stroke-linecap="round"/><line x1="764.49" y1="105.61" x2="761.9" y2="102.18" stroke="#f3e41c" stroke-width="2.2" stroke-linecap="round"/><line x1="770.97" y1="104.17" x2="771.86" y2="99.97" stroke="#f0a020" stroke-width="3.2" stroke-linecap="round"/><line x1="770.97" y1="104.17" x2="771.86" y2="99.97" stroke="#f3e41c" stroke-width="2.2" stroke-linecap="round"/><line x1="776.5" y1="108.49" x2="780.36" y2="106.61" stroke="#f0a020" stroke-width="3.2" stroke-linecap="round"/><line x1="776.5" y1="108.49" x2="780.36" y2="106.61" stroke="#f3e41c" stroke-width="2.2" stroke-linecap="round"/><line x1="776.91" y1="114.47" x2="781" y2="115.8" stroke="#f0a020" stroke-width="3.2" stroke-linecap="round"/><line x1="776.91" y1="114.47" x2="781" y2="115.8" stroke="#f3e41c" stroke-width="2.2" stroke-linecap="round"/><line x1="773.78" y1="118.63" x2="776.18" y2="122.2" stroke="#f0a020" stroke-width="3.2" stroke-linecap="round"/><line x1="773.78" y1="118.63" x2="776.18" y2="122.2" stroke="#f3e41c" stroke-width="2.2" stroke-linecap="round"/><circle cx="769.31" cy="112" r="6.6" fill="#f3e41c" stroke="#f0a020" stroke-width="0.9"/><circle cx="755.61" cy="122" r="5.2" fill="#2b5fc1"/><circle cx="762.71" cy="118.3" r="5.6" fill="#2b5fc1"/><circle cx="768.01" cy="122.8" r="4.8" fill="#2b5fc1"/><rect x="755.61" y="118.3" width="12.4" height="9.6" fill="#2b5fc1"/><circle cx="755.61" cy="122" r="3.5" fill="#d3d3d3"/><circle cx="762.71" cy="118.3" r="3.9" fill="#d3d3d3"/><circle cx="768.01" cy="122.8" r="3.1" fill="#d3d3d3"/><rect x="755.61" y="118.3" width="12.4" height="7.9" fill="#d3d3d3"/><path d="M764.29 124.15A3.95 3.95 0 0 1 767.66 118.87" fill="none" stroke="#2b5fc1" stroke-width="1.7" stroke-linecap="round"/>
<circle cx="789.57" cy="118" r="6.2" fill="#2a4a6e"/><circle cx="799.17" cy="110.7" r="6.6" fill="#2a4a6e"/><circle cx="811.27" cy="113.6" r="6.1" fill="#2a4a6e"/><rect x="789.57" y="110.7" width="21.7" height="13.9" fill="#2a4a6e"/><circle cx="789.57" cy="118" r="4.5" fill="#d3d3d3"/><circle cx="799.17" cy="110.7" r="4.9" fill="#d3d3d3"/><circle cx="811.27" cy="113.6" r="4.4" fill="#d3d3d3"/><rect x="789.57" y="110.7" width="21.7" height="12.2" fill="#d3d3d3"/><circle cx="794.87" cy="121" r="4.8" fill="#2a4a6e"/><circle cx="803.07" cy="117.3" r="6" fill="#2a4a6e"/><circle cx="810.87" cy="121" r="5" fill="#2a4a6e"/><rect x="794.87" y="117.3" width="16" height="8.8" fill="#2a4a6e"/><circle cx="794.87" cy="121" r="3.1" fill="#fff"/><circle cx="803.07" cy="117.3" r="4.3" fill="#fff"/><circle cx="810.87" cy="121" r="3.3" fill="#fff"/><rect x="794.87" y="117.3" width="16" height="7.1" fill="#fff"/><path d="M806.97 122.42A4.15 4.15 0 0 1 810.51 116.87" fill="none" stroke="#2a4a6e" stroke-width="1.7" stroke-linecap="round"/>
<circle cx="824.13" cy="118" r="6.2" fill="#2a4a6e"/><circle cx="833.73" cy="110.7" r="6.6" fill="#2a4a6e"/><circle cx="845.83" cy="113.6" r="6.1" fill="#2a4a6e"/><rect x="824.13" y="110.7" width="21.7" height="13.9" fill="#2a4a6e"/><circle cx="824.13" cy="118" r="4.5" fill="#d3d3d3"/><circle cx="833.73" cy="110.7" r="4.9" fill="#d3d3d3"/><circle cx="845.83" cy="113.6" r="4.4" fill="#d3d3d3"/><rect x="824.13" y="110.7" width="21.7" height="12.2" fill="#d3d3d3"/><circle cx="829.43" cy="121" r="4.8" fill="#2a4a6e"/><circle cx="837.63" cy="117.3" r="6" fill="#2a4a6e"/><circle cx="845.43" cy="121" r="5" fill="#2a4a6e"/><rect x="829.43" y="117.3" width="16" height="8.8" fill="#2a4a6e"/><circle cx="829.43" cy="121" r="3.1" fill="#fff"/><circle cx="837.63" cy="117.3" r="4.3" fill="#fff"/><circle cx="845.43" cy="121" r="3.3" fill="#fff"/><rect x="829.43" y="117.3" width="16" height="7.1" fill="#fff"/><path d="M841.53 122.42A4.15 4.15 0 0 1 845.07 116.87" fill="none" stroke="#2a4a6e" stroke-width="1.7" stroke-linecap="round"/>
<circle cx="858.69" cy="118" r="6.2" fill="#2b5fc1"/><circle cx="868.29" cy="110.7" r="6.6" fill="#2b5fc1"/><circle cx="880.39" cy="113.6" r="6.1" fill="#2b5fc1"/><rect x="858.69" y="110.7" width="21.7" height="13.9" fill="#2b5fc1"/><circle cx="858.69" cy="118" r="4.5" fill="#d3d3d3"/><circle cx="868.29" cy="110.7" r="4.9" fill="#d3d3d3"/><circle cx="880.39" cy="113.6" r="4.4" fill="#d3d3d3"/><rect x="858.69" y="110.7" width="21.7" height="12.2" fill="#d3d3d3"/><circle cx="863.99" cy="121" r="4.8" fill="#2b5fc1"/><circle cx="872.19" cy="117.3" r="6" fill="#2b5fc1"/><circle cx="879.99" cy="121" r="5" fill="#2b5fc1"/><rect x="863.99" y="117.3" width="16" height="8.8" fill="#2b5fc1"/><circle cx="863.99" cy="121" r="3.1" fill="#fff"/><circle cx="872.19" cy="117.3" r="4.3" fill="#fff"/><circle cx="879.99" cy="121" r="3.3" fill="#fff"/><rect x="863.99" y="117.3" width="16" height="7.1" fill="#fff"/><path d="M876.09 122.42A4.15 4.15 0 0 1 879.63 116.87" fill="none" stroke="#2b5fc1" stroke-width="1.7" stroke-linecap="round"/>
<line x1="899.68" y1="110.61" x2="895.44" y2="109.86" stroke="#f0a020" stroke-width="3.2" stroke-linecap="round"/><line x1="899.68" y1="110.61" x2="895.44" y2="109.86" stroke="#f3e41c" stroke-width="2.2" stroke-linecap="round"/><line x1="902.74" y1="105.61" x2="900.15" y2="102.18" stroke="#f0a020" stroke-width="3.2" stroke-linecap="round"/><line x1="902.74" y1="105.61" x2="900.15" y2="102.18" stroke="#f3e41c" stroke-width="2.2" stroke-linecap="round"/><line x1="909.22" y1="104.17" x2="910.11" y2="99.97" stroke="#f0a020" stroke-width="3.2" stroke-linecap="round"/><line x1="909.22" y1="104.17" x2="910.11" y2="99.97" stroke="#f3e41c" stroke-width="2.2" stroke-linecap="round"/><line x1="914.75" y1="108.49" x2="918.61" y2="106.61" stroke="#f0a020" stroke-width="3.2" stroke-linecap="round"/><line x1="914.75" y1="108.49" x2="918.61" y2="106.61" stroke="#f3e41c" stroke-width="2.2" stroke-linecap="round"/><line x1="915.16" y1="114.47" x2="919.25" y2="115.8" stroke="#f0a020" stroke-width="3.2" stroke-linecap="round"/><line x1="915.16" y1="114.47" x2="919.25" y2="115.8" stroke="#f3e41c" stroke-width="2.2" stroke-linecap="round"/><line x1="912.03" y1="118.63" x2="914.43" y2="122.2" stroke="#f0a020" stroke-width="3.2" stroke-linecap="round"/><line x1="912.03" y1="118.63" x2="914.43" y2="122.2" stroke="#f3e41c" stroke-width="2.2" stroke-linecap="round"/><circle cx="907.56" cy="112" r="6.6" fill="#f3e41c" stroke="#f0a020" stroke-width="0.9"/><circle cx="893.86" cy="122" r="5.2" fill="#2b5fc1"/><circle cx="900.96" cy="118.3" r="5.6" fill="#2b5fc1"/><circle cx="906.26" cy="122.8" r="4.8" fill="#2b5fc1"/><rect x="893.86" y="118.3" width="12.4" height="9.6" fill="#2b5fc1"/><circle cx="893.86" cy="122" r="3.5" fill="#d3d3d3"/><circle cx="900.96" cy="118.3" r="3.9" fill="#d3d3d3"/><circle cx="906.26" cy="122.8" r="3.1" fill="#d3d3d3"/><rect x="893.86" y="118.3" width="12.4" height="7.9" fill="#d3d3d3"/><path d="M902.54 124.15A3.95 3.95 0 0 1 905.91 118.87" fill="none" stroke="#2b5fc1" stroke-width="1.7" stroke-linecap="round"/>
<path d="M942.82 101.2A12.1 12.1 0 1 0 942.82 125.4A16.46 16.46 0 0 1 942.82 101.2Z" fill="#fff" stroke="#000" stroke-width="1.8" stroke-linejoin="round"/><line x1="922.22" y1="115.6" x2="956.82" y2="115.6" stroke="#2f5585" stroke-width="1.6"/><line x1="922.22" y1="118.8" x2="956.82" y2="118.8" stroke="#2f5585" stroke-width="1.5"/><line x1="923.72" y1="123.5" x2="955.02" y2="123.5" stroke="#2f5585" stroke-width="2.6"/>
<path d="M977.38 101.2A12.1 12.1 0 1 0 977.38 125.4A16.46 16.46 0 0 1 977.38 101.2Z" fill="#fff" stroke="#000" stroke-width="1.8" stroke-linejoin="round"/><line x1="956.78" y1="115.6" x2="991.38" y2="115.6" stroke="#2f5585" stroke-width="1.6"/><line x1="956.78" y1="118.8" x2="991.38" y2="118.8" stroke="#2f5585" stroke-width="1.5"/><line x1="958.28" y1="123.5" x2="989.58" y2="123.5" stroke="#2f5585" stroke-width="2.6"/>
<line x1="1000.42" y1="110.64" x2="996.21" y2="109.74" stroke="#f0a020" stroke-width="3.2" stroke-linecap="round"/><line x1="1000.42" y1="110.64" x2="996.21" y2="109.74" stroke="#f3e41c" stroke-width="2.2" stroke-linecap="round"/><line x1="1003.54" y1="105.83" x2="1001.01" y2="102.35" stroke="#f0a020" stroke-width="3.2" stroke-linecap="round"/><line x1="1003.54" y1="105.83" x2="1001.01" y2="102.35" stroke="#f3e41c" stroke-width="2.2" stroke-linecap="round"/><line x1="1009.63" y1="104.42" x2="1010.38" y2="100.19" stroke="#f0a020" stroke-width="3.2" stroke-linecap="round"/><line x1="1009.63" y1="104.42" x2="1010.38" y2="100.19" stroke="#f3e41c" stroke-width="2.2" stroke-linecap="round"/><line x1="1015.43" y1="108.79" x2="1019.3" y2="106.91" stroke="#f0a020" stroke-width="3.2" stroke-linecap="round"/><line x1="1015.43" y1="108.79" x2="1019.3" y2="106.91" stroke="#f3e41c" stroke-width="2.2" stroke-linecap="round"/><line x1="1016.01" y1="114.24" x2="1020.18" y2="115.28" stroke="#f0a020" stroke-width="3.2" stroke-linecap="round"/><line x1="1016.01" y1="114.24" x2="1020.18" y2="115.28" stroke="#f3e41c" stroke-width="2.2" stroke-linecap="round"/><circle cx="1008.24" cy="112.3" r="6.6" fill="#f3e41c" stroke="#f0a020" stroke-width="0.9"/><line x1="992.64" y1="119.6" x2="1024.64" y2="119.6" stroke="#e8d84a" stroke-width="1" stroke-dasharray="3 4"/><line x1="991.34" y1="123.1" x2="1025.94" y2="123.1" stroke="#cfcfc0" stroke-width="1"/><line x1="991.34" y1="117.5" x2="1025.94" y2="117.5" stroke="#4f7bc6" stroke-width="2"/><line x1="991.34" y1="121" x2="1025.94" y2="121" stroke="#4f7bc6" stroke-width="1.8"/><line x1="993.44" y1="125.5" x2="1024.74" y2="125.5" stroke="#5a82c4" stroke-width="2.6"/>
<line x1="1037.93" y1="110.61" x2="1033.69" y2="109.86" stroke="#f0a020" stroke-width="3.2" stroke-linecap="round"/><line x1="1037.93" y1="110.61" x2="1033.69" y2="109.86" stroke="#f3e41c" stroke-width="2.2" stroke-linecap="round"/><line x1="1040.99" y1="105.61" x2="1038.4" y2="102.18" stroke="#f0a020" stroke-width="3.2" stroke-linecap="round"/><line x1="1040.99" y1="105.61" x2="1038.4" y2="102.18" stroke="#f3e41c" stroke-width="2.2" stroke-linecap="round"/><line x1="1047.47" y1="104.17" x2="1048.36" y2="99.97" stroke="#f0a020" stroke-width="3.2" stroke-linecap="round"/><line x1="1047.47" y1="104.17" x2="1048.36" y2="99.97" stroke="#f3e41c" stroke-width="2.2" stroke-linecap="round"/><line x1="1053" y1="108.49" x2="1056.86" y2="106.61" stroke="#f0a020" stroke-width="3.2" stroke-linecap="round"/><line x1="1053" y1="108.49" x2="1056.86" y2="106.61" stroke="#f3e41c" stroke-width="2.2" stroke-linecap="round"/><line x1="1053.41" y1="114.47" x2="1057.5" y2="115.8" stroke="#f0a020" stroke-width="3.2" stroke-linecap="round"/><line x1="1053.41" y1="114.47" x2="1057.5" y2="115.8" stroke="#f3e41c" stroke-width="2.2" stroke-linecap="round"/><line x1="1050.28" y1="118.63" x2="1052.68" y2="122.2" stroke="#f0a020" stroke-width="3.2" stroke-linecap="round"/><line x1="1050.28" y1="118.63" x2="1052.68" y2="122.2" stroke="#f3e41c" stroke-width="2.2" stroke-linecap="round"/><circle cx="1045.81" cy="112" r="6.6" fill="#f3e41c" stroke="#f0a020" stroke-width="0.9"/><circle cx="1032.11" cy="122" r="5.2" fill="#2b5fc1"/><circle cx="1039.21" cy="118.3" r="5.6" fill="#2b5fc1"/><circle cx="1044.51" cy="122.8" r="4.8" fill="#2b5fc1"/><rect x="1032.11" y="118.3" width="12.4" height="9.6" fill="#2b5fc1"/><circle cx="1032.11" cy="122" r="3.5" fill="#d3d3d3"/><circle cx="1039.21" cy="118.3" r="3.9" fill="#d3d3d3"/><circle cx="1044.51" cy="122.8" r="3.1" fill="#d3d3d3"/><rect x="1032.11" y="118.3" width="12.4" height="7.9" fill="#d3d3d3"/><path d="M1040.79 124.15A3.95 3.95 0 0 1 1044.16 118.87" fill="none" stroke="#2b5fc1" stroke-width="1.7" stroke-linecap="round"/>
<path d="M1081.07 101.2A12.1 12.1 0 1 0 1081.07 125.4A16.46 16.46 0 0 1 1081.07 101.2Z" fill="#fff" stroke="#000" stroke-width="1.8" stroke-linejoin="round"/><line x1="1060.47" y1="115.6" x2="1095.07" y2="115.6" stroke="#2f5585" stroke-width="1.6"/><line x1="1060.47" y1="118.8" x2="1095.07" y2="118.8" stroke="#2f5585" stroke-width="1.5"/><line x1="1061.97" y1="123.5" x2="1093.27" y2="123.5" stroke="#2f5585" stroke-width="2.6"/>
</g>
<ellipse cx="126.70" cy="152.9" rx="3.25" ry="3.45" fill="none" stroke="#000" stroke-width="2"/>
<ellipse cx="143.98" cy="152.9" rx="3.25" ry="3.45" fill="none" stroke="#000" stroke-width="2"/>
<ellipse cx="161.26" cy="152.9" rx="3.25" ry="3.45" fill="none" stroke="#000" stroke-width="2"/>
<ellipse cx="178.54" cy="152.9" rx="3.25" ry="3.45" fill="none" stroke="#000" stroke-width="2"/>
<ellipse cx="195.82" cy="152.9" rx="3.25" ry="3.45" fill="none" stroke="#000" stroke-width="2"/>
<ellipse cx="213.10" cy="152.9" rx="3.25" ry="3.45" fill="none" stroke="#000" stroke-width="2"/>
<ellipse cx="230.38" cy="152.9" rx="3.25" ry="3.45" fill="none" stroke="#000" stroke-width="2"/>
<ellipse cx="247.66" cy="152.9" rx="3.25" ry="3.45" fill="none" stroke="#000" stroke-width="2"/>
<ellipse cx="264.94" cy="152.9" rx="3.25" ry="3.45" fill="none" stroke="#000" stroke-width="2"/>
<ellipse cx="282.22" cy="152.9" rx="3.25" ry="3.45" fill="none" stroke="#000" stroke-width="2"/>
<ellipse cx="299.50" cy="152.9" rx="3.25" ry="3.45" fill="none" stroke="#000" stroke-width="2"/>
<ellipse cx="316.78" cy="152.9" rx="3.25" ry="3.45" fill="none" stroke="#000" stroke-width="2"/>
<ellipse cx="334.06" cy="152.9" rx="3.25" ry="3.45" fill="none" stroke="#000" stroke-width="2"/>
<ellipse cx="351.34" cy="152.9" rx="3.25" ry="3.45" fill="none" stroke="#000" stroke-width="2"/>
<ellipse cx="368.62" cy="152.9" rx="3.25" ry="3.45" fill="none" stroke="#000" stroke-width="2"/>
<ellipse cx="385.90" cy="152.9" rx="3.25" ry="3.45" fill="none" stroke="#000" stroke-width="2"/>
<ellipse cx="403.18" cy="152.9" rx="3.25" ry="3.45" fill="none" stroke="#000" stroke-width="2"/>
<ellipse cx="420.46" cy="152.9" rx="3.25" ry="3.45" fill="none" stroke="#000" stroke-width="2"/>
<ellipse cx="437.74" cy="152.9" rx="3.25" ry="3.45" fill="none" stroke="#000" stroke-width="2"/>
<ellipse cx="455.02" cy="152.9" rx="3.25" ry="3.45" fill="none" stroke="#000" stroke-width="2"/>
<ellipse cx="472.30" cy="152.9" rx="3.25" ry="3.45" fill="none" stroke="#000" stroke-width="2"/>
<ellipse cx="489.58" cy="152.9" rx="3.25" ry="3.45" fill="none" stroke="#000" stroke-width="2"/>
<ellipse cx="506.86" cy="152.9" rx="3.25" ry="3.45" fill="none" stroke="#000" stroke-width="2"/>
<ellipse cx="524.14" cy="152.9" rx="3.25" ry="3.45" fill="none" stroke="#000" stroke-width="2"/>
<ellipse cx="541.42" cy="152.9" rx="3.25" ry="3.45" fill="none" stroke="#000" stroke-width="2"/>
<ellipse cx="558.70" cy="152.9" rx="3.25" ry="3.45" fill="none" stroke="#000" stroke-width="2"/>
<ellipse cx="575.98" cy="152.9" rx="3.25" ry="3.45" fill="none" stroke="#000" stroke-width="2"/>
<ellipse cx="593.26" cy="152.9" rx="3.25" ry="3.45" fill="none" stroke="#000" stroke-width="2"/>
<ellipse cx="610.54" cy="152.9" rx="3.25" ry="3.45" fill="none" stroke="#000" stroke-width="2"/>
<ellipse cx="627.82" cy="152.9" rx="3.25" ry="3.45" fill="none" stroke="#000" stroke-width="2"/>
<ellipse cx="645.10" cy="152.9" rx="3.25" ry="3.45" fill="none" stroke="#000" stroke-width="2"/>
<ellipse cx="662.38" cy="152.9" rx="3.25" ry="3.45" fill="none" stroke="#000" stroke-width="2"/>
<ellipse cx="679.66" cy="152.9" rx="3.25" ry="3.45" fill="none" stroke="#000" stroke-width="2"/>
<ellipse cx="696.94" cy="152.9" rx="3.25" ry="3.45" fill="none" stroke="#000" stroke-width="2"/>
<ellipse cx="714.22" cy="152.9" rx="3.25" ry="3.45" fill="none" stroke="#000" stroke-width="2"/>
<ellipse cx="731.50" cy="152.9" rx="3.25" ry="3.45" fill="none" stroke="#000" stroke-width="2"/>
<ellipse cx="748.78" cy="152.9" rx="3.25" ry="3.45" fill="none" stroke="#000" stroke-width="2"/>
<ellipse cx="766.06" cy="152.9" rx="3.25" ry="3.45" fill="none" stroke="#000" stroke-width="2"/>
<ellipse cx="783.34" cy="152.9" rx="3.25" ry="3.45" fill="none" stroke="#000" stroke-width="2"/>
<ellipse cx="800.62" cy="152.9" rx="3.25" ry="3.45" fill="none" stroke="#000" stroke-width="2"/>
<ellipse cx="817.90" cy="152.9" rx="3.25" ry="3.45" fill="none" stroke="#000" stroke-width="2"/>
<ellipse cx="835.18" cy="152.9" rx="3.25" ry="3.45" fill="none" stroke="#000" stroke-width="2"/>
<ellipse cx="852.46" cy="152.9" rx="3.25" ry="3.45" fill="none" stroke="#000" stroke-width="2"/>
<ellipse cx="869.74" cy="152.9" rx="3.25" ry="3.45" fill="none" stroke="#000" stroke-width="2"/>
<ellipse cx="887.02" cy="152.9" rx="3.25" ry="3.45" fill="none" stroke="#000" stroke-width="2"/>
<ellipse cx="904.30" cy="152.9" rx="3.25" ry="3.45" fill="none" stroke="#000" stroke-width="2"/>
<ellipse cx="921.58" cy="152.9" rx="3.25" ry="3.45" fill="none" stroke="#000" stroke-width="2"/>
<ellipse cx="938.86" cy="152.9" rx="3.25" ry="3.45" fill="none" stroke="#000" stroke-width="2"/>
<ellipse cx="956.14" cy="152.9" rx="3.25" ry="3.45" fill="none" stroke="#000" stroke-width="2"/>
<ellipse cx="973.42" cy="152.9" rx="3.25" ry="3.45" fill="none" stroke="#000" stroke-width="2"/>
<ellipse cx="990.70" cy="152.9" rx="3.25" ry="3.45" fill="none" stroke="#000" stroke-width="2"/>
<ellipse cx="1007.98" cy="152.9" rx="3.25" ry="3.45" fill="none" stroke="#000" stroke-width="2"/>
<ellipse cx="1025.26" cy="152.9" rx="3.25" ry="3.45" fill="none" stroke="#000" stroke-width="2"/>
<ellipse cx="1042.54" cy="152.9" rx="3.25" ry="3.45" fill="none" stroke="#000" stroke-width="2"/>
<ellipse cx="1059.82" cy="152.9" rx="3.25" ry="3.45" fill="none" stroke="#000" stroke-width="2"/>
<ellipse cx="1077.10" cy="152.9" rx="3.25" ry="3.45" fill="none" stroke="#000" stroke-width="2"/>
<ellipse cx="1094.38" cy="152.9" rx="3.25" ry="3.45" fill="none" stroke="#000" stroke-width="2"/>
<!--ICONS-->
<text x="9.8" y="21.6" class="ls" font-size="16" fill="#0000ff">(kraj lahko izberete v meniju)</text>
<text x="399.6" y="36.9" class="ls" font-size="23.8" fill="#0000ff">Zagreb 7 dni</text>
<text x="860.5" y="21.5" class="ls" font-size="16" fill="#0000ff">Zadnja posodobitev: 12.12.2025 - 16:09</text>
<text transform="translate(196.43,68.8) scale(1.06,1)" class="ds" font-size="17" text-anchor="middle" fill="#000">petek</text>
<text transform="translate(196.43,89.6) scale(1.06,1)" class="ds" font-size="17" text-anchor="middle" fill="#000">12.12</text>
<text transform="translate(334.68,68.8) scale(1.06,1)" class="ds" font-size="17" text-anchor="middle" fill="#cc0000">sobota</text>
<text transform="translate(334.68,89.6) scale(1.06,1)" class="ds" font-size="17" text-anchor="middle" fill="#cc0000">13.12</text>
<text transform="translate(472.93,68.8) scale(1.06,1)" class="ds" font-size="17" text-anchor="middle" fill="#cc0000">nedelja</text>
<text transform="translate(472.93,89.6) scale(1.06,1)" class="ds" font-size="17" text-anchor="middle" fill="#cc0000">14.12</text>
<text transform="translate(611.17,68.8) scale(1.06,1)" class="ds" font-size="17" text-anchor="middle" fill="#000">ponedeljek</text>
<text transform="translate(611.17,89.6) scale(1.06,1)" class="ds" font-size="17" text-anchor="middle" fill="#000">15.12</text>
<text transform="translate(749.42,68.8) scale(1.06,1)" class="ds" font-size="17" text-anchor="middle" fill="#000">torek</text>
<text transform="translate(749.42,89.6) scale(1.06,1)" class="ds" font-size="17" text-anchor="middle" fill="#000">16.12</text>
<text transform="translate(887.67,68.8) scale(1.06,1)" class="ds" font-size="17" text-anchor="middle" fill="#000">sreda</text>
<text transform="translate(887.67,89.6) scale(1.06,1)" class="ds" font-size="17" text-anchor="middle" fill="#000">17.12</text>
<text transform="translate(1025.92,68.8) scale(1.06,1)" class="ds" font-size="17" text-anchor="middle" fill="#000">četrtek</text>
<text transform="translate(1025.92,89.6) scale(1.06,1)" class="ds" font-size="17" text-anchor="middle" fill="#000">18.12</text>
<text transform="translate(123.9,365.9) scale(1.06,1)" class="ds" font-size="17" text-anchor="end" fill="#000">0</text>
<text transform="translate(123.9,328.6) scale(1.06,1)" class="ds" font-size="17" text-anchor="end" fill="#000">1</text>
<text transform="translate(123.9,291.3) scale(1.06,1)" class="ds" font-size="17" text-anchor="end" fill="#000">2</text>
<text transform="translate(123.9,254.0) scale(1.06,1)" class="ds" font-size="17" text-anchor="end" fill="#000">3</text>
<text transform="translate(123.9,216.7) scale(1.06,1)" class="ds" font-size="17" text-anchor="end" fill="#000">4</text>
<text transform="translate(123.9,179.4) scale(1.06,1)" class="ds" font-size="17" text-anchor="end" fill="#000">5</text>
<text transform="translate(46.4,365.5) scale(1.05,1)" class="ds" font-size="17" fill="#f00">-5</text>
<text transform="translate(46.4,328.2) scale(1.05,1)" class="ds" font-size="17" fill="#f00">-1</text>
<text transform="translate(46.4,290.9) scale(1.05,1)" class="ds" font-size="17" fill="#f00">3</text>
<text transform="translate(46.4,253.6) scale(1.05,1)" class="ds" font-size="17" fill="#f00">6</text>
<text transform="translate(46.4,216.3) scale(1.05,1)" class="ds" font-size="17" fill="#f00">10</text>
<text transform="translate(46.4,179.0) scale(1.05,1)" class="ds" font-size="17" fill="#f00">14</text>
<text transform="translate(1098.0,365.5) scale(1.05,1)" class="ds" font-size="17" fill="#000">0</text>
<text transform="translate(1098.0,326.9) scale(1.05,1)" class="ds" font-size="17" fill="#000">1.5</text>
<text transform="translate(1098.0,290.9) scale(1.05,1)" class="ds" font-size="17" fill="#000">3.5</text>
<text transform="translate(1098.0,253.6) scale(1.05,1)" class="ds" font-size="17" fill="#000">6.0</text>
<text transform="translate(1098.0,216.3) scale(1.05,1)" class="ds" font-size="17" fill="#000">9.0</text>
<text transform="translate(1098.0,179.0) scale(1.05,1)" class="ds" font-size="17" fill="#000">14</text>
<text transform="translate(35.1,267) rotate(-90)" class="ds" font-size="19.05" text-anchor="middle" fill="#f00">Temperatura (°C)</text>
<text transform="translate(100.1,263.6) rotate(-90)" class="ds" font-size="19.35" text-anchor="middle" fill="#000">Padavine (mm/h)</text>
<text transform="translate(1145.2,255.4) rotate(-90)" class="ds" font-size="19.1" text-anchor="middle" fill="#000">Višina oblakov (km)</text>
<text transform="translate(161.16,376.8) scale(1.05,1)" class="ds" font-size="17" text-anchor="middle" fill="#000">06</text>
<text transform="translate(195.73,376.8) scale(1.05,1)" class="ds" font-size="17" text-anchor="middle" fill="#000">12</text>
<text transform="translate(230.29,376.8) scale(1.05,1)" class="ds" font-size="17" text-anchor="middle" fill="#000">18</text>
<text transform="translate(264.85,376.8) scale(1.05,1)" class="ds" font-size="17" text-anchor="middle" fill="#000">sob</text>
<text transform="translate(299.41,376.8) scale(1.05,1)" class="ds" font-size="17" text-anchor="middle" fill="#000">06</text>
<text transform="translate(333.98,376.8) scale(1.05,1)" class="ds" font-size="17" text-anchor="middle" fill="#000">12</text>
<text transform="translate(368.54,376.8) scale(1.05,1)" class="ds" font-size="17" text-anchor="middle" fill="#000">18</text>
<text transform="translate(403.10,376.8) scale(1.05,1)" class="ds" font-size="17" text-anchor="middle" fill="#000">ned</text>
<text transform="translate(437.66,376.8) scale(1.05,1)" class="ds" font-size="17" text-anchor="middle" fill="#000">06</text>
<text transform="translate(472.23,376.8) scale(1.05,1)" class="ds" font-size="17" text-anchor="middle" fill="#000">12</text>
<text transform="translate(506.79,376.8) scale(1.05,1)" class="ds" font-size="17" text-anchor="middle" fill="#000">18</text>
<text transform="translate(541.35,376.8) scale(1.05,1)" class="ds" font-size="17" text-anchor="middle" fill="#000">pon</text>
<text transform="translate(575.91,376.8) scale(1.05,1)" class="ds" font-size="17" text-anchor="middle" fill="#000">06</text>
<text transform="translate(610.47,376.8) scale(1.05,1)" class="ds" font-size="17" text-anchor="middle" fill="#000">12</text>
<text transform="translate(645.04,376.8) scale(1.05,1)" class="ds" font-size="17" text-anchor="middle" fill="#000">18</text>
<text transform="translate(679.60,376.8) scale(1.05,1)" class="ds" font-size="17" text-anchor="middle" fill="#000">tor</text>
<text transform="translate(714.16,376.8) scale(1.05,1)" class="ds" font-size="17" text-anchor="middle" fill="#000">06</text>
<text transform="translate(748.72,376.8) scale(1.05,1)" class="ds" font-size="17" text-anchor="middle" fill="#000">12</text>
<text transform="translate(783.29,376.8) scale(1.05,1)" class="ds" font-size="17" text-anchor="middle" fill="#000">18</text>
<text transform="translate(817.85,376.8) scale(1.05,1)" class="ds" font-size="17" text-anchor="middle" fill="#000">sre</text>
<text transform="translate(852.41,376.8) scale(1.05,1)" class="ds" font-size="17" text-anchor="middle" fill="#000">06</text>
<text transform="translate(886.97,376.8) scale(1.05,1)" class="ds" font-size="17" text-anchor="middle" fill="#000">12</text>
<text transform="translate(921.54,376.8) scale(1.05,1)" class="ds" font-size="17" text-anchor="middle" fill="#000">18</text>
<text transform="translate(956.10,376.8) scale(1.05,1)" class="ds" font-size="17" text-anchor="middle" fill="#000">čet</text>
<text transform="translate(990.66,376.8) scale(1.05,1)" class="ds" font-size="17" text-anchor="middle" fill="#000">06</text>
<text transform="translate(1025.22,376.8) scale(1.05,1)" class="ds" font-size="17" text-anchor="middle" fill="#000">12</text>
<text transform="translate(1059.79,376.8) scale(1.05,1)" class="ds" font-size="17" text-anchor="middle" fill="#000">18</text>
<line x1="144.6" y1="359" x2="144.6" y2="354.5" stroke="#000" stroke-width="1"/>
<line x1="161.9" y1="359" x2="161.9" y2="349.5" stroke="#000" stroke-width="1"/>
<line x1="179.1" y1="359" x2="179.1" y2="354.5" stroke="#000" stroke-width="1"/>
<line x1="196.4" y1="359" x2="196.4" y2="349.5" stroke="#000" stroke-width="1"/>
<line x1="213.7" y1="359" x2="213.7" y2="354.5" stroke="#000" stroke-width="1"/>
<line x1="231.0" y1="359" x2="231.0" y2="349.5" stroke="#000" stroke-width="1"/>
<line x1="248.3" y1="359" x2="248.3" y2="354.5" stroke="#000" stroke-width="1"/>
<line x1="282.8" y1="359" x2="282.8" y2="354.5" stroke="#000" stroke-width="1"/>
<line x1="300.1" y1="359" x2="300.1" y2="349.5" stroke="#000" stroke-width="1"/>
<line x1="317.4" y1="359" x2="317.4" y2="354.5" stroke="#000" stroke-width="1"/>
<line x1="334.7" y1="359" x2="334.7" y2="349.5" stroke="#000" stroke-width="1"/>
<line x1="352.0" y1="359" x2="352.0" y2="354.5" stroke="#000" stroke-width="1"/>
<line x1="369.2" y1="359" x2="369.2" y2="349.5" stroke="#000" stroke-width="1"/>
<line x1="386.5" y1="359" x2="386.5" y2="354.5" stroke="#000" stroke-width="1"/>
<line x1="421.1" y1="359" x2="421.1" y2="354.5" stroke="#000" stroke-width="1"/>
<line x1="438.4" y1="359" x2="438.4" y2="349.5" stroke="#000" stroke-width="1"/>
<line x1="455.6" y1="359" x2="455.6" y2="354.5" stroke="#000" stroke-width="1"/>
<line x1="472.9" y1="359" x2="472.9" y2="349.5" stroke="#000" stroke-width="1"/>
<line x1="490.2" y1="359" x2="490.2" y2="354.5" stroke="#000" stroke-width="1"/>
<line x1="507.5" y1="359" x2="507.5" y2="349.5" stroke="#000" stroke-width="1"/>
<line x1="524.8" y1="359" x2="524.8" y2="354.5" stroke="#000" stroke-width="1"/>
<line x1="559.3" y1="359" x2="559.3" y2="354.5" stroke="#000" stroke-width="1"/>
<line x1="576.6" y1="359" x2="576.6" y2="349.5" stroke="#000" stroke-width="1"/>
<line x1="593.9" y1="359" x2="593.9" y2="354.5" stroke="#000" stroke-width="1"/>
<line x1="611.2" y1="359" x2="611.2" y2="349.5" stroke="#000" stroke-width="1"/>
<line x1="628.5" y1="359" x2="628.5" y2="354.5" stroke="#000" stroke-width="1"/>
<line x1="645.7" y1="359" x2="645.7" y2="349.5" stroke="#000" stroke-width="1"/>
<line x1="663.0" y1="359" x2="663.0" y2="354.5" stroke="#000" stroke-width="1"/>
<line x1="697.6" y1="359" x2="697.6" y2="354.5" stroke="#000" stroke-width="1"/>
<line x1="714.9" y1="359" x2="714.9" y2="349.5" stroke="#000" stroke-width="1"/>
<line x1="732.1" y1="359" x2="732.1" y2="354.5" stroke="#000" stroke-width="1"/>
<line x1="749.4" y1="359" x2="749.4" y2="349.5" stroke="#000" stroke-width="1"/>
<line x1="766.7" y1="359" x2="766.7" y2="354.5" stroke="#000" stroke-width="1"/>
<line x1="784.0" y1="359" x2="784.0" y2="349.5" stroke="#000" stroke-width="1"/>
<line x1="801.3" y1="359" x2="801.3" y2="354.5" stroke="#000" stroke-width="1"/>
<line x1="835.8" y1="359" x2="835.8" y2="354.5" stroke="#000" stroke-width="1"/>
<line x1="853.1" y1="359" x2="853.1" y2="349.5" stroke="#000" stroke-width="1"/>
<line x1="870.4" y1="359" x2="870.4" y2="354.5" stroke="#000" stroke-width="1"/>
<line x1="887.7" y1="359" x2="887.7" y2="349.5" stroke="#000" stroke-width="1"/>
<line x1="905.0" y1="359" x2="905.0" y2="354.5" stroke="#000" stroke-width="1"/>
<line x1="922.2" y1="359" x2="922.2" y2="349.5" stroke="#000" stroke-width="1"/>
<line x1="939.5" y1="359" x2="939.5" y2="354.5" stroke="#000" stroke-width="1"/>
<line x1="974.1" y1="359" x2="974.1" y2="354.5" stroke="#000" stroke-width="1"/>
<line x1="991.4" y1="359" x2="991.4" y2="349.5" stroke="#000" stroke-width="1"/>
<line x1="1008.6" y1="359" x2="1008.6" y2="354.5" stroke="#000" stroke-width="1"/>
<line x1="1025.9" y1="359" x2="1025.9" y2="349.5" stroke="#000" stroke-width="1"/>
<line x1="1043.2" y1="359" x2="1043.2" y2="354.5" stroke="#000" stroke-width="1"/>
<line x1="1060.5" y1="359" x2="1060.5" y2="349.5" stroke="#000" stroke-width="1"/>
<line x1="1077.8" y1="359" x2="1077.8" y2="354.5" stroke="#000" stroke-width="1"/>
<rect x="127" y="390" width="32" height="10.7" fill="#0050ff"/>
<rect x="165.3" y="386" width="104.5" height="19.5" fill="#fff"/>
<text x="168.6" y="401.9" class="ls" font-size="20.2" fill="#000">Dež</text>
<rect x="278.2" y="390" width="31.5" height="10.7" fill="#10d8c8"/>
<rect x="310" y="386" width="109.5" height="19.5" fill="#fff"/>
<text x="317.9" y="401.9" class="ls" font-size="19.7" fill="#000">Možnost ploh</text>
<text x="499" y="401.8" class="ls" font-size="15.8" fill="#0000ff">© vreme.us &amp; vreme.pro</text>
<rect x="759.5" y="386" width="180.3" height="19.7" fill="#fff"/>
<text x="759" y="401.9" class="ls" font-size="19.4" fill="#000">Gostota oblakov (%)</text>
<rect x="949.4" y="385.6" width="28.8" height="12.4" fill="#d3d3d3"/>
<rect x="978.2" y="385.6" width="28.8" height="12.4" fill="#b0b0b0"/>
<rect x="1007.0" y="385.6" width="29.0" height="12.4" fill="#8f8f8f"/>
<rect x="1036.0" y="385.6" width="29.3" height="12.4" fill="#707070"/>
<rect x="1065.3" y="385.6" width="28.9" height="12.4" fill="#555555"/>
<rect x="949.4" y="385.6" width="144.8" height="12.4" fill="none" stroke="#000" stroke-width="1"/>
<text x="949.4" y="415" class="ds" font-size="16" text-anchor="middle" fill="#000">10</text>
<text x="978.2" y="415" class="ds" font-size="16" text-anchor="middle" fill="#000">25</text>
<text x="1007.0" y="415" class="ds" font-size="16" text-anchor="middle" fill="#000">50</text>
<text x="1036.0" y="415" class="ds" font-size="16" text-anchor="middle" fill="#000">75</text>
<text x="1065.3" y="415" class="ds" font-size="16" text-anchor="middle" fill="#000">90</text>
<text x="1094.2" y="415" class="ds" font-size="16" text-anchor="middle" fill="#000">100</text>
</svg>
</body></html>
